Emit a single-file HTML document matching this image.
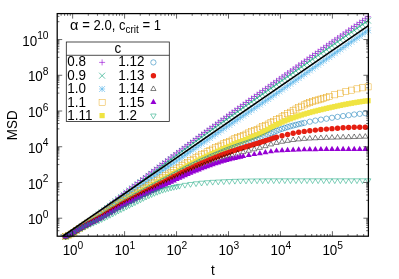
<!DOCTYPE html>
<html><head><meta charset="utf-8"><title>MSD</title>
<style>html,body{margin:0;padding:0;background:#fff;}body{width:399px;height:279px;overflow:hidden;position:relative;font-family:"Liberation Sans",sans-serif;}</style>
</head><body>
<svg width="399" height="279" viewBox="0 0 399 279" style="position:absolute;left:0;top:0;will-change:transform">
<rect width="399" height="279" fill="#fff"/>
<g>
<path d="M62.60 236.51H68.60M65.6 233.51V239.51" stroke="#9400D3" stroke-width="0.6" fill="none"/>
<path d="M65.38 235.18H71.38M68.38 232.18V238.18" stroke="#9400D3" stroke-width="0.6" fill="none"/>
<path d="M68.15 233.98H74.15M71.15 230.98V236.98" stroke="#9400D3" stroke-width="0.6" fill="none"/>
<path d="M70.92 232.31H76.92M73.92 229.31V235.31" stroke="#9400D3" stroke-width="0.6" fill="none"/>
<path d="M73.70 230.54H79.70M76.7 227.54V233.54" stroke="#9400D3" stroke-width="0.6" fill="none"/>
<path d="M76.47 228.64H82.47M79.47 225.64V231.64" stroke="#9400D3" stroke-width="0.6" fill="none"/>
<path d="M79.25 226.67H85.25M82.25 223.67V229.67" stroke="#9400D3" stroke-width="0.6" fill="none"/>
<path d="M82.02 224.66H88.02M85.02 221.66V227.66" stroke="#9400D3" stroke-width="0.6" fill="none"/>
<path d="M84.80 222.62H90.80M87.8 219.62V225.62" stroke="#9400D3" stroke-width="0.6" fill="none"/>
<path d="M87.57 220.57H93.57M90.57 217.57V223.57" stroke="#9400D3" stroke-width="0.6" fill="none"/>
<path d="M90.35 218.45H96.35M93.35 215.45V221.45" stroke="#9400D3" stroke-width="0.6" fill="none"/>
<path d="M93.12 216.26H99.12M96.12 213.26V219.26" stroke="#9400D3" stroke-width="0.6" fill="none"/>
<path d="M95.90 214.02H101.90M98.9 211.02V217.02" stroke="#9400D3" stroke-width="0.6" fill="none"/>
<path d="M98.67 211.76H104.67M101.67 208.76V214.76" stroke="#9400D3" stroke-width="0.6" fill="none"/>
<path d="M101.45 209.51H107.45M104.45 206.51V212.51" stroke="#9400D3" stroke-width="0.6" fill="none"/>
<path d="M104.22 207.25H110.22M107.22 204.25V210.25" stroke="#9400D3" stroke-width="0.6" fill="none"/>
<path d="M107.00 204.96H113.00M110.0 201.96V207.96" stroke="#9400D3" stroke-width="0.6" fill="none"/>
<path d="M109.77 202.66H115.77M112.77 199.66V205.66" stroke="#9400D3" stroke-width="0.6" fill="none"/>
<path d="M112.55 200.36H118.55M115.55 197.36V203.36" stroke="#9400D3" stroke-width="0.6" fill="none"/>
<path d="M115.32 198.08H121.32M118.32 195.08V201.08" stroke="#9400D3" stroke-width="0.6" fill="none"/>
<path d="M118.10 195.84H124.10M121.1 192.84V198.84" stroke="#9400D3" stroke-width="0.6" fill="none"/>
<path d="M120.88 193.62H126.88M123.88 190.62V196.62" stroke="#9400D3" stroke-width="0.6" fill="none"/>
<path d="M123.65 191.41H129.65M126.65 188.41V194.41" stroke="#9400D3" stroke-width="0.6" fill="none"/>
<path d="M126.42 189.2H132.42M129.42 186.20V192.20" stroke="#9400D3" stroke-width="0.6" fill="none"/>
<path d="M129.20 187.01H135.20M132.2 184.01V190.01" stroke="#9400D3" stroke-width="0.6" fill="none"/>
<path d="M131.97 184.82H137.97M134.97 181.82V187.82" stroke="#9400D3" stroke-width="0.6" fill="none"/>
<path d="M134.75 182.65H140.75M137.75 179.65V185.65" stroke="#9400D3" stroke-width="0.6" fill="none"/>
<path d="M137.52 180.48H143.52M140.52 177.48V183.48" stroke="#9400D3" stroke-width="0.6" fill="none"/>
<path d="M140.30 178.32H146.30M143.3 175.32V181.32" stroke="#9400D3" stroke-width="0.6" fill="none"/>
<path d="M143.07 176.17H149.07M146.07 173.17V179.17" stroke="#9400D3" stroke-width="0.6" fill="none"/>
<path d="M145.85 174.04H151.85M148.85 171.04V177.04" stroke="#9400D3" stroke-width="0.6" fill="none"/>
<path d="M148.62 171.91H154.62M151.62 168.91V174.91" stroke="#9400D3" stroke-width="0.6" fill="none"/>
<path d="M151.40 169.79H157.40M154.4 166.79V172.79" stroke="#9400D3" stroke-width="0.6" fill="none"/>
<path d="M154.18 167.67H160.18M157.18 164.67V170.67" stroke="#9400D3" stroke-width="0.6" fill="none"/>
<path d="M156.95 165.55H162.95M159.95 162.55V168.55" stroke="#9400D3" stroke-width="0.6" fill="none"/>
<path d="M159.72 163.44H165.72M162.72 160.44V166.44" stroke="#9400D3" stroke-width="0.6" fill="none"/>
<path d="M162.50 161.33H168.50M165.5 158.33V164.33" stroke="#9400D3" stroke-width="0.6" fill="none"/>
<path d="M165.27 159.22H171.27M168.27 156.22V162.22" stroke="#9400D3" stroke-width="0.6" fill="none"/>
<path d="M168.05 157.12H174.05M171.05 154.12V160.12" stroke="#9400D3" stroke-width="0.6" fill="none"/>
<path d="M170.82 155.02H176.82M173.82 152.02V158.02" stroke="#9400D3" stroke-width="0.6" fill="none"/>
<path d="M173.60 152.93H179.60M176.6 149.93V155.93" stroke="#9400D3" stroke-width="0.6" fill="none"/>
<path d="M176.38 150.85H182.38M179.38 147.85V153.85" stroke="#9400D3" stroke-width="0.6" fill="none"/>
<path d="M179.15 148.77H185.15M182.15 145.77V151.77" stroke="#9400D3" stroke-width="0.6" fill="none"/>
<path d="M181.93 146.7H187.93M184.93 143.70V149.70" stroke="#9400D3" stroke-width="0.6" fill="none"/>
<path d="M184.70 144.64H190.70M187.7 141.64V147.64" stroke="#9400D3" stroke-width="0.6" fill="none"/>
<path d="M187.47 142.59H193.47M190.47 139.59V145.59" stroke="#9400D3" stroke-width="0.6" fill="none"/>
<path d="M190.25 140.54H196.25M193.25 137.54V143.54" stroke="#9400D3" stroke-width="0.6" fill="none"/>
<path d="M193.02 138.51H199.02M196.02 135.51V141.51" stroke="#9400D3" stroke-width="0.6" fill="none"/>
<path d="M195.80 136.48H201.80M198.8 133.48V139.48" stroke="#9400D3" stroke-width="0.6" fill="none"/>
<path d="M198.57 134.46H204.57M201.57 131.46V137.46" stroke="#9400D3" stroke-width="0.6" fill="none"/>
<path d="M201.35 132.45H207.35M204.35 129.45V135.45" stroke="#9400D3" stroke-width="0.6" fill="none"/>
<path d="M204.12 130.44H210.12M207.12 127.44V133.44" stroke="#9400D3" stroke-width="0.6" fill="none"/>
<path d="M206.90 128.42H212.90M209.9 125.42V131.42" stroke="#9400D3" stroke-width="0.6" fill="none"/>
<path d="M209.67 126.42H215.67M212.67 123.42V129.42" stroke="#9400D3" stroke-width="0.6" fill="none"/>
<path d="M212.45 124.41H218.45M215.45 121.41V127.41" stroke="#9400D3" stroke-width="0.6" fill="none"/>
<path d="M215.22 122.41H221.22M218.22 119.41V125.41" stroke="#9400D3" stroke-width="0.6" fill="none"/>
<path d="M218.00 120.41H224.00M221.0 117.41V123.41" stroke="#9400D3" stroke-width="0.6" fill="none"/>
<path d="M220.77 118.41H226.77M223.77 115.41V121.41" stroke="#9400D3" stroke-width="0.6" fill="none"/>
<path d="M223.55 116.41H229.55M226.55 113.41V119.41" stroke="#9400D3" stroke-width="0.6" fill="none"/>
<path d="M226.32 114.41H232.32M229.32 111.41V117.41" stroke="#9400D3" stroke-width="0.6" fill="none"/>
<path d="M229.10 112.42H235.10M232.1 109.42V115.42" stroke="#9400D3" stroke-width="0.6" fill="none"/>
<path d="M231.88 110.43H237.88M234.88 107.43V113.43" stroke="#9400D3" stroke-width="0.6" fill="none"/>
<path d="M234.65 108.44H240.65M237.65 105.44V111.44" stroke="#9400D3" stroke-width="0.6" fill="none"/>
<path d="M237.42 106.46H243.42M240.42 103.46V109.46" stroke="#9400D3" stroke-width="0.6" fill="none"/>
<path d="M240.20 104.47H246.20M243.2 101.47V107.47" stroke="#9400D3" stroke-width="0.6" fill="none"/>
<path d="M242.97 102.49H248.97M245.97 99.49V105.49" stroke="#9400D3" stroke-width="0.6" fill="none"/>
<path d="M245.75 100.51H251.75M248.75 97.51V103.51" stroke="#9400D3" stroke-width="0.6" fill="none"/>
<path d="M248.52 98.53H254.52M251.52 95.53V101.53" stroke="#9400D3" stroke-width="0.6" fill="none"/>
<path d="M251.30 96.56H257.30M254.3 93.56V99.56" stroke="#9400D3" stroke-width="0.6" fill="none"/>
<path d="M254.07 94.58H260.07M257.07 91.58V97.58" stroke="#9400D3" stroke-width="0.6" fill="none"/>
<path d="M256.85 92.61H262.85M259.85 89.61V95.61" stroke="#9400D3" stroke-width="0.6" fill="none"/>
<path d="M259.62 90.64H265.62M262.62 87.64V93.64" stroke="#9400D3" stroke-width="0.6" fill="none"/>
<path d="M262.40 88.67H268.40M265.4 85.67V91.67" stroke="#9400D3" stroke-width="0.6" fill="none"/>
<path d="M265.17 86.71H271.17M268.17 83.71V89.71" stroke="#9400D3" stroke-width="0.6" fill="none"/>
<path d="M267.95 84.75H273.95M270.95 81.75V87.75" stroke="#9400D3" stroke-width="0.6" fill="none"/>
<path d="M270.73 82.79H276.73M273.73 79.79V85.79" stroke="#9400D3" stroke-width="0.6" fill="none"/>
<path d="M273.50 80.83H279.50M276.5 77.83V83.83" stroke="#9400D3" stroke-width="0.6" fill="none"/>
<path d="M276.27 78.87H282.27M279.27 75.87V81.87" stroke="#9400D3" stroke-width="0.6" fill="none"/>
<path d="M279.05 76.92H285.05M282.05 73.92V79.92" stroke="#9400D3" stroke-width="0.6" fill="none"/>
<path d="M281.82 74.97H287.82M284.82 71.97V77.97" stroke="#9400D3" stroke-width="0.6" fill="none"/>
<path d="M284.60 73.01H290.60M287.6 70.01V76.01" stroke="#9400D3" stroke-width="0.6" fill="none"/>
<path d="M287.38 71.06H293.38M290.38 68.06V74.06" stroke="#9400D3" stroke-width="0.6" fill="none"/>
<path d="M290.15 69.11H296.15M293.15 66.11V72.11" stroke="#9400D3" stroke-width="0.6" fill="none"/>
<path d="M292.92 67.16H298.92M295.92 64.16V70.16" stroke="#9400D3" stroke-width="0.6" fill="none"/>
<path d="M295.70 65.21H301.70M298.7 62.21V68.21" stroke="#9400D3" stroke-width="0.6" fill="none"/>
<path d="M298.48 63.26H304.48M301.48 60.26V66.26" stroke="#9400D3" stroke-width="0.6" fill="none"/>
<path d="M301.25 61.31H307.25M304.25 58.31V64.31" stroke="#9400D3" stroke-width="0.6" fill="none"/>
<path d="M304.02 59.36H310.02M307.02 56.36V62.36" stroke="#9400D3" stroke-width="0.6" fill="none"/>
<path d="M306.80 57.41H312.80M309.8 54.41V60.41" stroke="#9400D3" stroke-width="0.6" fill="none"/>
<path d="M309.57 55.46H315.57M312.57 52.46V58.46" stroke="#9400D3" stroke-width="0.6" fill="none"/>
<path d="M312.35 53.52H318.35M315.35 50.52V56.52" stroke="#9400D3" stroke-width="0.6" fill="none"/>
<path d="M315.12 51.57H321.12M318.12 48.57V54.57" stroke="#9400D3" stroke-width="0.6" fill="none"/>
<path d="M317.90 49.63H323.90M320.9 46.63V52.63" stroke="#9400D3" stroke-width="0.6" fill="none"/>
<path d="M320.67 47.68H326.67M323.67 44.68V50.68" stroke="#9400D3" stroke-width="0.6" fill="none"/>
<path d="M323.45 45.74H329.45M326.45 42.74V48.74" stroke="#9400D3" stroke-width="0.6" fill="none"/>
<path d="M326.23 43.8H332.23M329.23 40.80V46.80" stroke="#9400D3" stroke-width="0.6" fill="none"/>
<path d="M329.00 41.86H335.00M332.0 38.86V44.86" stroke="#9400D3" stroke-width="0.6" fill="none"/>
<path d="M331.77 39.92H337.77M334.77 36.92V42.92" stroke="#9400D3" stroke-width="0.6" fill="none"/>
<path d="M334.55 37.98H340.55M337.55 34.98V40.98" stroke="#9400D3" stroke-width="0.6" fill="none"/>
<path d="M337.32 36.04H343.32M340.32 33.04V39.04" stroke="#9400D3" stroke-width="0.6" fill="none"/>
<path d="M340.10 34.11H346.10M343.1 31.11V37.11" stroke="#9400D3" stroke-width="0.6" fill="none"/>
<path d="M342.88 32.18H348.88M345.88 29.18V35.18" stroke="#9400D3" stroke-width="0.6" fill="none"/>
<path d="M345.65 30.25H351.65M348.65 27.25V33.25" stroke="#9400D3" stroke-width="0.6" fill="none"/>
<path d="M348.42 28.32H354.42M351.42 25.32V31.32" stroke="#9400D3" stroke-width="0.6" fill="none"/>
<path d="M351.20 26.4H357.20M354.2 23.40V29.40" stroke="#9400D3" stroke-width="0.6" fill="none"/>
<path d="M353.98 24.47H359.98M356.98 21.47V27.47" stroke="#9400D3" stroke-width="0.6" fill="none"/>
<path d="M356.75 22.55H362.75M359.75 19.55V25.55" stroke="#9400D3" stroke-width="0.6" fill="none"/>
<path d="M359.52 20.63H365.52M362.52 17.63V23.63" stroke="#9400D3" stroke-width="0.6" fill="none"/>
<path d="M362.30 18.72H368.30M365.3 15.72V21.72" stroke="#9400D3" stroke-width="0.6" fill="none"/>
<path d="M365.07 16.8H371.07M368.07 13.80V19.80" stroke="#9400D3" stroke-width="0.6" fill="none"/>
<path d="M62.60 233.51L68.60 239.51M62.60 239.51L68.60 233.51" stroke="#009E73" stroke-width="0.6" fill="none"/>
<path d="M65.38 232.18L71.38 238.18M65.38 238.18L71.38 232.18" stroke="#009E73" stroke-width="0.6" fill="none"/>
<path d="M68.15 230.98L74.15 236.98M68.15 236.98L74.15 230.98" stroke="#009E73" stroke-width="0.6" fill="none"/>
<path d="M70.92 229.31L76.92 235.31M70.92 235.31L76.92 229.31" stroke="#009E73" stroke-width="0.6" fill="none"/>
<path d="M73.70 227.54L79.70 233.54M73.70 233.54L79.70 227.54" stroke="#009E73" stroke-width="0.6" fill="none"/>
<path d="M76.47 225.64L82.47 231.64M76.47 231.64L82.47 225.64" stroke="#009E73" stroke-width="0.6" fill="none"/>
<path d="M79.25 223.70L85.25 229.70M79.25 229.70L85.25 223.70" stroke="#009E73" stroke-width="0.6" fill="none"/>
<path d="M82.02 221.74L88.02 227.74M82.02 227.74L88.02 221.74" stroke="#009E73" stroke-width="0.6" fill="none"/>
<path d="M84.80 219.77L90.80 225.77M84.80 225.77L90.80 219.77" stroke="#009E73" stroke-width="0.6" fill="none"/>
<path d="M87.57 217.78L93.57 223.78M87.57 223.78L93.57 217.78" stroke="#009E73" stroke-width="0.6" fill="none"/>
<path d="M90.35 215.76L96.35 221.76M90.35 221.76L96.35 215.76" stroke="#009E73" stroke-width="0.6" fill="none"/>
<path d="M93.12 213.68L99.12 219.68M93.12 219.68L99.12 213.68" stroke="#009E73" stroke-width="0.6" fill="none"/>
<path d="M95.90 211.57L101.90 217.57M95.90 217.57L101.90 211.57" stroke="#009E73" stroke-width="0.6" fill="none"/>
<path d="M98.67 209.44L104.67 215.44M98.67 215.44L104.67 209.44" stroke="#009E73" stroke-width="0.6" fill="none"/>
<path d="M101.45 207.29L107.45 213.29M101.45 213.29L107.45 207.29" stroke="#009E73" stroke-width="0.6" fill="none"/>
<path d="M104.22 205.11L110.22 211.11M104.22 211.11L110.22 205.11" stroke="#009E73" stroke-width="0.6" fill="none"/>
<path d="M107.00 202.86L113.00 208.86M107.00 208.86L113.00 202.86" stroke="#009E73" stroke-width="0.6" fill="none"/>
<path d="M109.77 200.57L115.77 206.57M109.77 206.57L115.77 200.57" stroke="#009E73" stroke-width="0.6" fill="none"/>
<path d="M112.55 198.29L118.55 204.29M112.55 204.29L118.55 198.29" stroke="#009E73" stroke-width="0.6" fill="none"/>
<path d="M115.32 196.05L121.32 202.05M115.32 202.05L121.32 196.05" stroke="#009E73" stroke-width="0.6" fill="none"/>
<path d="M118.10 193.87L124.10 199.87M118.10 199.87L124.10 193.87" stroke="#009E73" stroke-width="0.6" fill="none"/>
<path d="M120.88 191.73L126.88 197.73M120.88 197.73L126.88 191.73" stroke="#009E73" stroke-width="0.6" fill="none"/>
<path d="M123.65 189.60L129.65 195.60M123.65 195.60L129.65 189.60" stroke="#009E73" stroke-width="0.6" fill="none"/>
<path d="M126.42 187.48L132.42 193.48M126.42 193.48L132.42 187.48" stroke="#009E73" stroke-width="0.6" fill="none"/>
<path d="M129.20 185.38L135.20 191.38M129.20 191.38L135.20 185.38" stroke="#009E73" stroke-width="0.6" fill="none"/>
<path d="M131.97 183.29L137.97 189.29M131.97 189.29L137.97 183.29" stroke="#009E73" stroke-width="0.6" fill="none"/>
<path d="M134.75 181.20L140.75 187.20M134.75 187.20L140.75 181.20" stroke="#009E73" stroke-width="0.6" fill="none"/>
<path d="M137.52 179.12L143.52 185.12M137.52 185.12L143.52 179.12" stroke="#009E73" stroke-width="0.6" fill="none"/>
<path d="M140.30 177.05L146.30 183.05M140.30 183.05L146.30 177.05" stroke="#009E73" stroke-width="0.6" fill="none"/>
<path d="M143.07 174.98L149.07 180.98M143.07 180.98L149.07 174.98" stroke="#009E73" stroke-width="0.6" fill="none"/>
<path d="M145.85 172.91L151.85 178.91M145.85 178.91L151.85 172.91" stroke="#009E73" stroke-width="0.6" fill="none"/>
<path d="M148.62 170.85L154.62 176.85M148.62 176.85L154.62 170.85" stroke="#009E73" stroke-width="0.6" fill="none"/>
<path d="M151.40 168.78L157.40 174.78M151.40 174.78L157.40 168.78" stroke="#009E73" stroke-width="0.6" fill="none"/>
<path d="M154.18 166.72L160.18 172.72M154.18 172.72L160.18 166.72" stroke="#009E73" stroke-width="0.6" fill="none"/>
<path d="M156.95 164.65L162.95 170.65M156.95 170.65L162.95 164.65" stroke="#009E73" stroke-width="0.6" fill="none"/>
<path d="M159.72 162.59L165.72 168.59M159.72 168.59L165.72 162.59" stroke="#009E73" stroke-width="0.6" fill="none"/>
<path d="M162.50 160.52L168.50 166.52M162.50 166.52L168.50 160.52" stroke="#009E73" stroke-width="0.6" fill="none"/>
<path d="M165.27 158.46L171.27 164.46M165.27 164.46L171.27 158.46" stroke="#009E73" stroke-width="0.6" fill="none"/>
<path d="M168.05 156.41L174.05 162.41M168.05 162.41L174.05 156.41" stroke="#009E73" stroke-width="0.6" fill="none"/>
<path d="M170.82 154.35L176.82 160.35M170.82 160.35L176.82 154.35" stroke="#009E73" stroke-width="0.6" fill="none"/>
<path d="M173.60 152.31L179.60 158.31M173.60 158.31L179.60 152.31" stroke="#009E73" stroke-width="0.6" fill="none"/>
<path d="M176.38 150.26L182.38 156.26M176.38 156.26L182.38 150.26" stroke="#009E73" stroke-width="0.6" fill="none"/>
<path d="M179.15 148.23L185.15 154.23M179.15 154.23L185.15 148.23" stroke="#009E73" stroke-width="0.6" fill="none"/>
<path d="M181.93 146.20L187.93 152.20M181.93 152.20L187.93 146.20" stroke="#009E73" stroke-width="0.6" fill="none"/>
<path d="M184.70 144.17L190.70 150.17M184.70 150.17L190.70 144.17" stroke="#009E73" stroke-width="0.6" fill="none"/>
<path d="M187.47 142.16L193.47 148.16M187.47 148.16L193.47 142.16" stroke="#009E73" stroke-width="0.6" fill="none"/>
<path d="M190.25 140.15L196.25 146.15M190.25 146.15L196.25 140.15" stroke="#009E73" stroke-width="0.6" fill="none"/>
<path d="M193.02 138.15L199.02 144.15M193.02 144.15L199.02 138.15" stroke="#009E73" stroke-width="0.6" fill="none"/>
<path d="M195.80 136.16L201.80 142.16M195.80 142.16L201.80 136.16" stroke="#009E73" stroke-width="0.6" fill="none"/>
<path d="M198.57 134.18L204.57 140.18M198.57 140.18L204.57 134.18" stroke="#009E73" stroke-width="0.6" fill="none"/>
<path d="M201.35 132.21L207.35 138.21M201.35 138.21L207.35 132.21" stroke="#009E73" stroke-width="0.6" fill="none"/>
<path d="M204.12 130.23L210.12 136.23M204.12 136.23L210.12 130.23" stroke="#009E73" stroke-width="0.6" fill="none"/>
<path d="M206.90 128.26L212.90 134.26M206.90 134.26L212.90 128.26" stroke="#009E73" stroke-width="0.6" fill="none"/>
<path d="M209.67 126.29L215.67 132.29M209.67 132.29L215.67 126.29" stroke="#009E73" stroke-width="0.6" fill="none"/>
<path d="M212.45 124.32L218.45 130.32M212.45 130.32L218.45 124.32" stroke="#009E73" stroke-width="0.6" fill="none"/>
<path d="M215.22 122.36L221.22 128.36M215.22 128.36L221.22 122.36" stroke="#009E73" stroke-width="0.6" fill="none"/>
<path d="M218.00 120.39L224.00 126.39M218.00 126.39L224.00 120.39" stroke="#009E73" stroke-width="0.6" fill="none"/>
<path d="M220.77 118.43L226.77 124.43M220.77 124.43L226.77 118.43" stroke="#009E73" stroke-width="0.6" fill="none"/>
<path d="M223.55 116.47L229.55 122.47M223.55 122.47L229.55 116.47" stroke="#009E73" stroke-width="0.6" fill="none"/>
<path d="M226.32 114.51L232.32 120.51M226.32 120.51L232.32 114.51" stroke="#009E73" stroke-width="0.6" fill="none"/>
<path d="M229.10 112.55L235.10 118.55M229.10 118.55L235.10 112.55" stroke="#009E73" stroke-width="0.6" fill="none"/>
<path d="M231.88 110.59L237.88 116.59M231.88 116.59L237.88 110.59" stroke="#009E73" stroke-width="0.6" fill="none"/>
<path d="M234.65 108.64L240.65 114.64M234.65 114.64L240.65 108.64" stroke="#009E73" stroke-width="0.6" fill="none"/>
<path d="M237.42 106.68L243.42 112.68M237.42 112.68L243.42 106.68" stroke="#009E73" stroke-width="0.6" fill="none"/>
<path d="M240.20 104.73L246.20 110.73M240.20 110.73L246.20 104.73" stroke="#009E73" stroke-width="0.6" fill="none"/>
<path d="M242.97 102.78L248.97 108.78M242.97 108.78L248.97 102.78" stroke="#009E73" stroke-width="0.6" fill="none"/>
<path d="M245.75 100.83L251.75 106.83M245.75 106.83L251.75 100.83" stroke="#009E73" stroke-width="0.6" fill="none"/>
<path d="M248.52 98.88L254.52 104.88M248.52 104.88L254.52 98.88" stroke="#009E73" stroke-width="0.6" fill="none"/>
<path d="M251.30 96.93L257.30 102.93M251.30 102.93L257.30 96.93" stroke="#009E73" stroke-width="0.6" fill="none"/>
<path d="M254.07 94.99L260.07 100.99M254.07 100.99L260.07 94.99" stroke="#009E73" stroke-width="0.6" fill="none"/>
<path d="M256.85 93.04L262.85 99.04M256.85 99.04L262.85 93.04" stroke="#009E73" stroke-width="0.6" fill="none"/>
<path d="M259.62 91.10L265.62 97.10M259.62 97.10L265.62 91.10" stroke="#009E73" stroke-width="0.6" fill="none"/>
<path d="M262.40 89.15L268.40 95.15M262.40 95.15L268.40 89.15" stroke="#009E73" stroke-width="0.6" fill="none"/>
<path d="M265.17 87.21L271.17 93.21M265.17 93.21L271.17 87.21" stroke="#009E73" stroke-width="0.6" fill="none"/>
<path d="M267.95 85.27L273.95 91.27M267.95 91.27L273.95 85.27" stroke="#009E73" stroke-width="0.6" fill="none"/>
<path d="M270.73 83.33L276.73 89.33M270.73 89.33L276.73 83.33" stroke="#009E73" stroke-width="0.6" fill="none"/>
<path d="M273.50 81.38L279.50 87.38M273.50 87.38L279.50 81.38" stroke="#009E73" stroke-width="0.6" fill="none"/>
<path d="M276.27 79.44L282.27 85.44M276.27 85.44L282.27 79.44" stroke="#009E73" stroke-width="0.6" fill="none"/>
<path d="M279.05 77.50L285.05 83.50M279.05 83.50L285.05 77.50" stroke="#009E73" stroke-width="0.6" fill="none"/>
<path d="M281.82 75.56L287.82 81.56M281.82 81.56L287.82 75.56" stroke="#009E73" stroke-width="0.6" fill="none"/>
<path d="M284.60 73.62L290.60 79.62M284.60 79.62L290.60 73.62" stroke="#009E73" stroke-width="0.6" fill="none"/>
<path d="M287.38 71.69L293.38 77.69M287.38 77.69L293.38 71.69" stroke="#009E73" stroke-width="0.6" fill="none"/>
<path d="M290.15 69.75L296.15 75.75M290.15 75.75L296.15 69.75" stroke="#009E73" stroke-width="0.6" fill="none"/>
<path d="M292.92 67.81L298.92 73.81M292.92 73.81L298.92 67.81" stroke="#009E73" stroke-width="0.6" fill="none"/>
<path d="M295.70 65.87L301.70 71.87M295.70 71.87L301.70 65.87" stroke="#009E73" stroke-width="0.6" fill="none"/>
<path d="M298.48 63.93L304.48 69.93M298.48 69.93L304.48 63.93" stroke="#009E73" stroke-width="0.6" fill="none"/>
<path d="M301.25 61.99L307.25 67.99M301.25 67.99L307.25 61.99" stroke="#009E73" stroke-width="0.6" fill="none"/>
<path d="M304.02 60.05L310.02 66.05M304.02 66.05L310.02 60.05" stroke="#009E73" stroke-width="0.6" fill="none"/>
<path d="M306.80 58.11L312.80 64.11M306.80 64.11L312.80 58.11" stroke="#009E73" stroke-width="0.6" fill="none"/>
<path d="M309.57 56.17L315.57 62.17M309.57 62.17L315.57 56.17" stroke="#009E73" stroke-width="0.6" fill="none"/>
<path d="M312.35 54.23L318.35 60.23M312.35 60.23L318.35 54.23" stroke="#009E73" stroke-width="0.6" fill="none"/>
<path d="M315.12 52.29L321.12 58.29M315.12 58.29L321.12 52.29" stroke="#009E73" stroke-width="0.6" fill="none"/>
<path d="M317.90 50.35L323.90 56.35M317.90 56.35L323.90 50.35" stroke="#009E73" stroke-width="0.6" fill="none"/>
<path d="M320.67 48.42L326.67 54.42M320.67 54.42L326.67 48.42" stroke="#009E73" stroke-width="0.6" fill="none"/>
<path d="M323.45 46.48L329.45 52.48M323.45 52.48L329.45 46.48" stroke="#009E73" stroke-width="0.6" fill="none"/>
<path d="M326.23 44.55L332.23 50.55M326.23 50.55L332.23 44.55" stroke="#009E73" stroke-width="0.6" fill="none"/>
<path d="M329.00 42.61L335.00 48.61M329.00 48.61L335.00 42.61" stroke="#009E73" stroke-width="0.6" fill="none"/>
<path d="M331.77 40.68L337.77 46.68M331.77 46.68L337.77 40.68" stroke="#009E73" stroke-width="0.6" fill="none"/>
<path d="M334.55 38.75L340.55 44.75M334.55 44.75L340.55 38.75" stroke="#009E73" stroke-width="0.6" fill="none"/>
<path d="M337.32 36.82L343.32 42.82M337.32 42.82L343.32 36.82" stroke="#009E73" stroke-width="0.6" fill="none"/>
<path d="M340.10 34.89L346.10 40.89M340.10 40.89L346.10 34.89" stroke="#009E73" stroke-width="0.6" fill="none"/>
<path d="M342.88 32.96L348.88 38.96M342.88 38.96L348.88 32.96" stroke="#009E73" stroke-width="0.6" fill="none"/>
<path d="M345.65 31.04L351.65 37.04M345.65 37.04L351.65 31.04" stroke="#009E73" stroke-width="0.6" fill="none"/>
<path d="M348.42 29.11L354.42 35.11M348.42 35.11L354.42 29.11" stroke="#009E73" stroke-width="0.6" fill="none"/>
<path d="M351.20 27.19L357.20 33.19M351.20 33.19L357.20 27.19" stroke="#009E73" stroke-width="0.6" fill="none"/>
<path d="M353.98 25.27L359.98 31.27M353.98 31.27L359.98 25.27" stroke="#009E73" stroke-width="0.6" fill="none"/>
<path d="M356.75 23.35L362.75 29.35M356.75 29.35L362.75 23.35" stroke="#009E73" stroke-width="0.6" fill="none"/>
<path d="M359.52 21.43L365.52 27.43M359.52 27.43L365.52 21.43" stroke="#009E73" stroke-width="0.6" fill="none"/>
<path d="M362.30 19.52L368.30 25.52M362.30 25.52L368.30 19.52" stroke="#009E73" stroke-width="0.6" fill="none"/>
<path d="M365.07 17.60L371.07 23.60M365.07 23.60L371.07 17.60" stroke="#009E73" stroke-width="0.6" fill="none"/>
<path d="M62.60 236.51H68.60M65.6 233.51V239.51M62.60 233.51L68.60 239.51M62.60 239.51L68.60 233.51" stroke="#56B4E9" stroke-width="0.6" fill="none"/>
<path d="M65.38 235.18H71.38M68.38 232.18V238.18M65.38 232.18L71.38 238.18M65.38 238.18L71.38 232.18" stroke="#56B4E9" stroke-width="0.6" fill="none"/>
<path d="M68.15 233.98H74.15M71.15 230.98V236.98M68.15 230.98L74.15 236.98M68.15 236.98L74.15 230.98" stroke="#56B4E9" stroke-width="0.6" fill="none"/>
<path d="M70.92 232.31H76.92M73.92 229.31V235.31M70.92 229.31L76.92 235.31M70.92 235.31L76.92 229.31" stroke="#56B4E9" stroke-width="0.6" fill="none"/>
<path d="M73.70 230.54H79.70M76.7 227.54V233.54M73.70 227.54L79.70 233.54M73.70 233.54L79.70 227.54" stroke="#56B4E9" stroke-width="0.6" fill="none"/>
<path d="M76.47 228.65H82.47M79.47 225.65V231.65M76.47 225.65L82.47 231.65M76.47 231.65L82.47 225.65" stroke="#56B4E9" stroke-width="0.6" fill="none"/>
<path d="M79.25 226.74H85.25M82.25 223.74V229.74M79.25 223.74L85.25 229.74M79.25 229.74L85.25 223.74" stroke="#56B4E9" stroke-width="0.6" fill="none"/>
<path d="M82.02 224.82H88.02M85.02 221.82V227.82M82.02 221.82L88.02 227.82M82.02 227.82L88.02 221.82" stroke="#56B4E9" stroke-width="0.6" fill="none"/>
<path d="M84.80 222.91H90.80M87.8 219.91V225.91M84.80 219.91L90.80 225.91M84.80 225.91L90.80 219.91" stroke="#56B4E9" stroke-width="0.6" fill="none"/>
<path d="M87.57 221.0H93.57M90.57 218.00V224.00M87.57 218.00L93.57 224.00M87.57 224.00L93.57 218.00" stroke="#56B4E9" stroke-width="0.6" fill="none"/>
<path d="M90.35 219.06H96.35M93.35 216.06V222.06M90.35 216.06L96.35 222.06M90.35 222.06L96.35 216.06" stroke="#56B4E9" stroke-width="0.6" fill="none"/>
<path d="M93.12 217.09H99.12M96.12 214.09V220.09M93.12 214.09L99.12 220.09M93.12 220.09L99.12 214.09" stroke="#56B4E9" stroke-width="0.6" fill="none"/>
<path d="M95.90 215.1H101.90M98.9 212.10V218.10M95.90 212.10L101.90 218.10M95.90 218.10L101.90 212.10" stroke="#56B4E9" stroke-width="0.6" fill="none"/>
<path d="M98.67 213.08H104.67M101.67 210.08V216.08M98.67 210.08L104.67 216.08M98.67 216.08L104.67 210.08" stroke="#56B4E9" stroke-width="0.6" fill="none"/>
<path d="M101.45 211.06H107.45M104.45 208.06V214.06M101.45 208.06L107.45 214.06M101.45 214.06L107.45 208.06" stroke="#56B4E9" stroke-width="0.6" fill="none"/>
<path d="M104.22 209.04H110.22M107.22 206.04V212.04M104.22 206.04L110.22 212.04M104.22 212.04L110.22 206.04" stroke="#56B4E9" stroke-width="0.6" fill="none"/>
<path d="M107.00 207.02H113.00M110.0 204.02V210.02M107.00 204.02L113.00 210.02M107.00 210.02L113.00 204.02" stroke="#56B4E9" stroke-width="0.6" fill="none"/>
<path d="M109.77 205.02H115.77M112.77 202.02V208.02M109.77 202.02L115.77 208.02M109.77 208.02L115.77 202.02" stroke="#56B4E9" stroke-width="0.6" fill="none"/>
<path d="M112.55 203.04H118.55M115.55 200.04V206.04M112.55 200.04L118.55 206.04M112.55 206.04L118.55 200.04" stroke="#56B4E9" stroke-width="0.6" fill="none"/>
<path d="M115.32 201.09H121.32M118.32 198.09V204.09M115.32 198.09L121.32 204.09M115.32 204.09L121.32 198.09" stroke="#56B4E9" stroke-width="0.6" fill="none"/>
<path d="M118.10 199.17H124.10M121.1 196.17V202.17M118.10 196.17L124.10 202.17M118.10 202.17L124.10 196.17" stroke="#56B4E9" stroke-width="0.6" fill="none"/>
<path d="M120.88 197.26H126.88M123.88 194.26V200.26M120.88 194.26L126.88 200.26M120.88 200.26L126.88 194.26" stroke="#56B4E9" stroke-width="0.6" fill="none"/>
<path d="M123.65 195.35H129.65M126.65 192.35V198.35M123.65 192.35L129.65 198.35M123.65 198.35L129.65 192.35" stroke="#56B4E9" stroke-width="0.6" fill="none"/>
<path d="M126.42 193.43H132.42M129.42 190.43V196.43M126.42 190.43L132.42 196.43M126.42 196.43L132.42 190.43" stroke="#56B4E9" stroke-width="0.6" fill="none"/>
<path d="M129.20 191.52H135.20M132.2 188.52V194.52M129.20 188.52L135.20 194.52M129.20 194.52L135.20 188.52" stroke="#56B4E9" stroke-width="0.6" fill="none"/>
<path d="M131.97 189.61H137.97M134.97 186.61V192.61M131.97 186.61L137.97 192.61M131.97 192.61L137.97 186.61" stroke="#56B4E9" stroke-width="0.6" fill="none"/>
<path d="M134.75 187.7H140.75M137.75 184.70V190.70M134.75 184.70L140.75 190.70M134.75 190.70L140.75 184.70" stroke="#56B4E9" stroke-width="0.6" fill="none"/>
<path d="M137.52 185.79H143.52M140.52 182.79V188.79M137.52 182.79L143.52 188.79M137.52 188.79L143.52 182.79" stroke="#56B4E9" stroke-width="0.6" fill="none"/>
<path d="M140.30 183.87H146.30M143.3 180.87V186.87M140.30 180.87L146.30 186.87M140.30 186.87L146.30 180.87" stroke="#56B4E9" stroke-width="0.6" fill="none"/>
<path d="M143.07 181.96H149.07M146.07 178.96V184.96M143.07 178.96L149.07 184.96M143.07 184.96L149.07 178.96" stroke="#56B4E9" stroke-width="0.6" fill="none"/>
<path d="M145.85 180.05H151.85M148.85 177.05V183.05M145.85 177.05L151.85 183.05M145.85 183.05L151.85 177.05" stroke="#56B4E9" stroke-width="0.6" fill="none"/>
<path d="M148.62 178.14H154.62M151.62 175.14V181.14M148.62 175.14L154.62 181.14M148.62 181.14L154.62 175.14" stroke="#56B4E9" stroke-width="0.6" fill="none"/>
<path d="M151.40 176.23H157.40M154.4 173.23V179.23M151.40 173.23L157.40 179.23M151.40 179.23L157.40 173.23" stroke="#56B4E9" stroke-width="0.6" fill="none"/>
<path d="M154.18 174.31H160.18M157.18 171.31V177.31M154.18 171.31L160.18 177.31M154.18 177.31L160.18 171.31" stroke="#56B4E9" stroke-width="0.6" fill="none"/>
<path d="M156.95 172.4H162.95M159.95 169.40V175.40M156.95 169.40L162.95 175.40M156.95 175.40L162.95 169.40" stroke="#56B4E9" stroke-width="0.6" fill="none"/>
<path d="M159.72 170.49H165.72M162.72 167.49V173.49M159.72 167.49L165.72 173.49M159.72 173.49L165.72 167.49" stroke="#56B4E9" stroke-width="0.6" fill="none"/>
<path d="M162.50 168.58H168.50M165.5 165.58V171.58M162.50 165.58L168.50 171.58M162.50 171.58L168.50 165.58" stroke="#56B4E9" stroke-width="0.6" fill="none"/>
<path d="M165.27 166.67H171.27M168.27 163.67V169.67M165.27 163.67L171.27 169.67M165.27 169.67L171.27 163.67" stroke="#56B4E9" stroke-width="0.6" fill="none"/>
<path d="M168.05 164.75H174.05M171.05 161.75V167.75M168.05 161.75L174.05 167.75M168.05 167.75L174.05 161.75" stroke="#56B4E9" stroke-width="0.6" fill="none"/>
<path d="M170.82 162.84H176.82M173.82 159.84V165.84M170.82 159.84L176.82 165.84M170.82 165.84L176.82 159.84" stroke="#56B4E9" stroke-width="0.6" fill="none"/>
<path d="M173.60 160.93H179.60M176.6 157.93V163.93M173.60 157.93L179.60 163.93M173.60 163.93L179.60 157.93" stroke="#56B4E9" stroke-width="0.6" fill="none"/>
<path d="M176.38 159.02H182.38M179.38 156.02V162.02M176.38 156.02L182.38 162.02M176.38 162.02L182.38 156.02" stroke="#56B4E9" stroke-width="0.6" fill="none"/>
<path d="M179.15 157.11H185.15M182.15 154.11V160.11M179.15 154.11L185.15 160.11M179.15 160.11L185.15 154.11" stroke="#56B4E9" stroke-width="0.6" fill="none"/>
<path d="M181.93 155.19H187.93M184.93 152.19V158.19M181.93 152.19L187.93 158.19M181.93 158.19L187.93 152.19" stroke="#56B4E9" stroke-width="0.6" fill="none"/>
<path d="M184.70 153.28H190.70M187.7 150.28V156.28M184.70 150.28L190.70 156.28M184.70 156.28L190.70 150.28" stroke="#56B4E9" stroke-width="0.6" fill="none"/>
<path d="M187.47 151.37H193.47M190.47 148.37V154.37M187.47 148.37L193.47 154.37M187.47 154.37L193.47 148.37" stroke="#56B4E9" stroke-width="0.6" fill="none"/>
<path d="M190.25 149.46H196.25M193.25 146.46V152.46M190.25 146.46L196.25 152.46M190.25 152.46L196.25 146.46" stroke="#56B4E9" stroke-width="0.6" fill="none"/>
<path d="M193.02 147.55H199.02M196.02 144.55V150.55M193.02 144.55L199.02 150.55M193.02 150.55L199.02 144.55" stroke="#56B4E9" stroke-width="0.6" fill="none"/>
<path d="M195.80 145.63H201.80M198.8 142.63V148.63M195.80 142.63L201.80 148.63M195.80 148.63L201.80 142.63" stroke="#56B4E9" stroke-width="0.6" fill="none"/>
<path d="M198.57 143.72H204.57M201.57 140.72V146.72M198.57 140.72L204.57 146.72M198.57 146.72L204.57 140.72" stroke="#56B4E9" stroke-width="0.6" fill="none"/>
<path d="M201.35 141.82H207.35M204.35 138.82V144.82M201.35 138.82L207.35 144.82M201.35 144.82L207.35 138.82" stroke="#56B4E9" stroke-width="0.6" fill="none"/>
<path d="M204.12 139.92H210.12M207.12 136.92V142.92M204.12 136.92L210.12 142.92M204.12 142.92L210.12 136.92" stroke="#56B4E9" stroke-width="0.6" fill="none"/>
<path d="M206.90 138.03H212.90M209.9 135.03V141.03M206.90 135.03L212.90 141.03M206.90 141.03L212.90 135.03" stroke="#56B4E9" stroke-width="0.6" fill="none"/>
<path d="M209.67 136.15H215.67M212.67 133.15V139.15M209.67 133.15L215.67 139.15M209.67 139.15L215.67 133.15" stroke="#56B4E9" stroke-width="0.6" fill="none"/>
<path d="M212.45 134.28H218.45M215.45 131.28V137.28M212.45 131.28L218.45 137.28M212.45 137.28L218.45 131.28" stroke="#56B4E9" stroke-width="0.6" fill="none"/>
<path d="M215.22 132.4H221.22M218.22 129.40V135.40M215.22 129.40L221.22 135.40M215.22 135.40L221.22 129.40" stroke="#56B4E9" stroke-width="0.6" fill="none"/>
<path d="M218.00 130.54H224.00M221.0 127.54V133.54M218.00 127.54L224.00 133.54M218.00 133.54L224.00 127.54" stroke="#56B4E9" stroke-width="0.6" fill="none"/>
<path d="M220.77 128.67H226.77M223.77 125.67V131.67M220.77 125.67L226.77 131.67M220.77 131.67L226.77 125.67" stroke="#56B4E9" stroke-width="0.6" fill="none"/>
<path d="M223.55 126.82H229.55M226.55 123.82V129.82M223.55 123.82L229.55 129.82M223.55 129.82L229.55 123.82" stroke="#56B4E9" stroke-width="0.6" fill="none"/>
<path d="M226.32 124.96H232.32M229.32 121.96V127.96M226.32 121.96L232.32 127.96M226.32 127.96L232.32 121.96" stroke="#56B4E9" stroke-width="0.6" fill="none"/>
<path d="M229.10 123.11H235.10M232.1 120.11V126.11M229.10 120.11L235.10 126.11M229.10 126.11L235.10 120.11" stroke="#56B4E9" stroke-width="0.6" fill="none"/>
<path d="M231.88 121.26H237.88M234.88 118.26V124.26M231.88 118.26L237.88 124.26M231.88 124.26L237.88 118.26" stroke="#56B4E9" stroke-width="0.6" fill="none"/>
<path d="M234.65 119.41H240.65M237.65 116.41V122.41M234.65 116.41L240.65 122.41M234.65 122.41L240.65 116.41" stroke="#56B4E9" stroke-width="0.6" fill="none"/>
<path d="M237.42 117.56H243.42M240.42 114.56V120.56M237.42 114.56L243.42 120.56M237.42 120.56L243.42 114.56" stroke="#56B4E9" stroke-width="0.6" fill="none"/>
<path d="M240.20 115.71H246.20M243.2 112.71V118.71M240.20 112.71L246.20 118.71M240.20 118.71L246.20 112.71" stroke="#56B4E9" stroke-width="0.6" fill="none"/>
<path d="M242.97 113.86H248.97M245.97 110.86V116.86M242.97 110.86L248.97 116.86M242.97 116.86L248.97 110.86" stroke="#56B4E9" stroke-width="0.6" fill="none"/>
<path d="M245.75 112.01H251.75M248.75 109.01V115.01M245.75 109.01L251.75 115.01M245.75 115.01L251.75 109.01" stroke="#56B4E9" stroke-width="0.6" fill="none"/>
<path d="M248.52 110.16H254.52M251.52 107.16V113.16M248.52 107.16L254.52 113.16M248.52 113.16L254.52 107.16" stroke="#56B4E9" stroke-width="0.6" fill="none"/>
<path d="M251.30 108.31H257.30M254.3 105.31V111.31M251.30 105.31L257.30 111.31M251.30 111.31L257.30 105.31" stroke="#56B4E9" stroke-width="0.6" fill="none"/>
<path d="M254.07 106.45H260.07M257.07 103.45V109.45M254.07 103.45L260.07 109.45M254.07 109.45L260.07 103.45" stroke="#56B4E9" stroke-width="0.6" fill="none"/>
<path d="M256.85 104.6H262.85M259.85 101.60V107.60M256.85 101.60L262.85 107.60M256.85 107.60L262.85 101.60" stroke="#56B4E9" stroke-width="0.6" fill="none"/>
<path d="M259.62 102.74H265.62M262.62 99.74V105.74M259.62 99.74L265.62 105.74M259.62 105.74L265.62 99.74" stroke="#56B4E9" stroke-width="0.6" fill="none"/>
<path d="M262.40 100.87H268.40M265.4 97.87V103.87M262.40 97.87L268.40 103.87M262.40 103.87L268.40 97.87" stroke="#56B4E9" stroke-width="0.6" fill="none"/>
<path d="M265.17 99.0H271.17M268.17 96.00V102.00M265.17 96.00L271.17 102.00M265.17 102.00L271.17 96.00" stroke="#56B4E9" stroke-width="0.6" fill="none"/>
<path d="M267.95 97.13H273.95M270.95 94.13V100.13M267.95 94.13L273.95 100.13M267.95 100.13L273.95 94.13" stroke="#56B4E9" stroke-width="0.6" fill="none"/>
<path d="M270.73 95.25H276.73M273.73 92.25V98.25M270.73 92.25L276.73 98.25M270.73 98.25L276.73 92.25" stroke="#56B4E9" stroke-width="0.6" fill="none"/>
<path d="M273.50 93.36H279.50M276.5 90.36V96.36M273.50 90.36L279.50 96.36M273.50 96.36L279.50 90.36" stroke="#56B4E9" stroke-width="0.6" fill="none"/>
<path d="M276.27 91.47H282.27M279.27 88.47V94.47M276.27 88.47L282.27 94.47M276.27 94.47L282.27 88.47" stroke="#56B4E9" stroke-width="0.6" fill="none"/>
<path d="M279.05 89.57H285.05M282.05 86.57V92.57M279.05 86.57L285.05 92.57M279.05 92.57L285.05 86.57" stroke="#56B4E9" stroke-width="0.6" fill="none"/>
<path d="M281.82 87.66H287.82M284.82 84.66V90.66M281.82 84.66L287.82 90.66M281.82 90.66L287.82 84.66" stroke="#56B4E9" stroke-width="0.6" fill="none"/>
<path d="M284.60 85.75H290.60M287.6 82.75V88.75M284.60 82.75L290.60 88.75M284.60 88.75L290.60 82.75" stroke="#56B4E9" stroke-width="0.6" fill="none"/>
<path d="M287.38 83.84H293.38M290.38 80.84V86.84M287.38 80.84L293.38 86.84M287.38 86.84L293.38 80.84" stroke="#56B4E9" stroke-width="0.6" fill="none"/>
<path d="M290.15 81.93H296.15M293.15 78.93V84.93M290.15 78.93L296.15 84.93M290.15 84.93L296.15 78.93" stroke="#56B4E9" stroke-width="0.6" fill="none"/>
<path d="M292.92 80.01H298.92M295.92 77.01V83.01M292.92 77.01L298.92 83.01M292.92 83.01L298.92 77.01" stroke="#56B4E9" stroke-width="0.6" fill="none"/>
<path d="M295.70 78.1H301.70M298.7 75.10V81.10M295.70 75.10L301.70 81.10M295.70 81.10L301.70 75.10" stroke="#56B4E9" stroke-width="0.6" fill="none"/>
<path d="M298.48 76.19H304.48M301.48 73.19V79.19M298.48 73.19L304.48 79.19M298.48 79.19L304.48 73.19" stroke="#56B4E9" stroke-width="0.6" fill="none"/>
<path d="M301.25 74.28H307.25M304.25 71.28V77.28M301.25 71.28L307.25 77.28M301.25 77.28L307.25 71.28" stroke="#56B4E9" stroke-width="0.6" fill="none"/>
<path d="M304.02 72.37H310.02M307.02 69.37V75.37M304.02 69.37L310.02 75.37M304.02 75.37L310.02 69.37" stroke="#56B4E9" stroke-width="0.6" fill="none"/>
<path d="M306.80 70.45H312.80M309.8 67.45V73.45M306.80 67.45L312.80 73.45M306.80 73.45L312.80 67.45" stroke="#56B4E9" stroke-width="0.6" fill="none"/>
<path d="M309.57 68.54H315.57M312.57 65.54V71.54M309.57 65.54L315.57 71.54M309.57 71.54L315.57 65.54" stroke="#56B4E9" stroke-width="0.6" fill="none"/>
<path d="M312.35 66.63H318.35M315.35 63.63V69.63M312.35 63.63L318.35 69.63M312.35 69.63L318.35 63.63" stroke="#56B4E9" stroke-width="0.6" fill="none"/>
<path d="M315.12 64.72H321.12M318.12 61.72V67.72M315.12 61.72L321.12 67.72M315.12 67.72L321.12 61.72" stroke="#56B4E9" stroke-width="0.6" fill="none"/>
<path d="M317.90 62.81H323.90M320.9 59.81V65.81M317.90 59.81L323.90 65.81M317.90 65.81L323.90 59.81" stroke="#56B4E9" stroke-width="0.6" fill="none"/>
<path d="M320.67 60.89H326.67M323.67 57.89V63.89M320.67 57.89L326.67 63.89M320.67 63.89L326.67 57.89" stroke="#56B4E9" stroke-width="0.6" fill="none"/>
<path d="M323.45 58.98H329.45M326.45 55.98V61.98M323.45 55.98L329.45 61.98M323.45 61.98L329.45 55.98" stroke="#56B4E9" stroke-width="0.6" fill="none"/>
<path d="M326.23 57.07H332.23M329.23 54.07V60.07M326.23 54.07L332.23 60.07M326.23 60.07L332.23 54.07" stroke="#56B4E9" stroke-width="0.6" fill="none"/>
<path d="M329.00 55.16H335.00M332.0 52.16V58.16M329.00 52.16L335.00 58.16M329.00 58.16L335.00 52.16" stroke="#56B4E9" stroke-width="0.6" fill="none"/>
<path d="M331.77 53.25H337.77M334.77 50.25V56.25M331.77 50.25L337.77 56.25M331.77 56.25L337.77 50.25" stroke="#56B4E9" stroke-width="0.6" fill="none"/>
<path d="M334.55 51.34H340.55M337.55 48.34V54.34M334.55 48.34L340.55 54.34M334.55 54.34L340.55 48.34" stroke="#56B4E9" stroke-width="0.6" fill="none"/>
<path d="M337.32 49.42H343.32M340.32 46.42V52.42M337.32 46.42L343.32 52.42M337.32 52.42L343.32 46.42" stroke="#56B4E9" stroke-width="0.6" fill="none"/>
<path d="M340.10 47.51H346.10M343.1 44.51V50.51M340.10 44.51L346.10 50.51M340.10 50.51L346.10 44.51" stroke="#56B4E9" stroke-width="0.6" fill="none"/>
<path d="M342.88 45.6H348.88M345.88 42.60V48.60M342.88 42.60L348.88 48.60M342.88 48.60L348.88 42.60" stroke="#56B4E9" stroke-width="0.6" fill="none"/>
<path d="M345.65 43.69H351.65M348.65 40.69V46.69M345.65 40.69L351.65 46.69M345.65 46.69L351.65 40.69" stroke="#56B4E9" stroke-width="0.6" fill="none"/>
<path d="M348.42 41.78H354.42M351.42 38.78V44.78M348.42 38.78L354.42 44.78M348.42 44.78L354.42 38.78" stroke="#56B4E9" stroke-width="0.6" fill="none"/>
<path d="M351.20 39.86H357.20M354.2 36.86V42.86M351.20 36.86L357.20 42.86M351.20 42.86L357.20 36.86" stroke="#56B4E9" stroke-width="0.6" fill="none"/>
<path d="M353.98 37.95H359.98M356.98 34.95V40.95M353.98 34.95L359.98 40.95M353.98 40.95L359.98 34.95" stroke="#56B4E9" stroke-width="0.6" fill="none"/>
<path d="M356.75 36.04H362.75M359.75 33.04V39.04M356.75 33.04L362.75 39.04M356.75 39.04L362.75 33.04" stroke="#56B4E9" stroke-width="0.6" fill="none"/>
<path d="M359.52 34.13H365.52M362.52 31.13V37.13M359.52 31.13L365.52 37.13M359.52 37.13L365.52 31.13" stroke="#56B4E9" stroke-width="0.6" fill="none"/>
<path d="M362.30 32.22H368.30M365.3 29.22V35.22M362.30 29.22L368.30 35.22M362.30 35.22L368.30 29.22" stroke="#56B4E9" stroke-width="0.6" fill="none"/>
<path d="M365.07 30.3H371.07M368.07 27.30V33.30M365.07 27.30L371.07 33.30M365.07 33.30L371.07 27.30" stroke="#56B4E9" stroke-width="0.6" fill="none"/>
<rect x="62.55" y="233.46" width="6.10" height="6.10" stroke="#E69F00" stroke-width="0.42" fill="none"/>
<rect x="65.33" y="232.19" width="6.10" height="6.10" stroke="#E69F00" stroke-width="0.42" fill="none"/>
<rect x="68.10" y="230.93" width="6.10" height="6.10" stroke="#E69F00" stroke-width="0.42" fill="none"/>
<rect x="70.87" y="229.31" width="6.10" height="6.10" stroke="#E69F00" stroke-width="0.42" fill="none"/>
<rect x="73.65" y="227.51" width="6.10" height="6.10" stroke="#E69F00" stroke-width="0.42" fill="none"/>
<rect x="76.42" y="225.71" width="6.10" height="6.10" stroke="#E69F00" stroke-width="0.42" fill="none"/>
<rect x="79.20" y="223.86" width="6.10" height="6.10" stroke="#E69F00" stroke-width="0.42" fill="none"/>
<rect x="81.97" y="221.99" width="6.10" height="6.10" stroke="#E69F00" stroke-width="0.42" fill="none"/>
<rect x="84.75" y="220.15" width="6.10" height="6.10" stroke="#E69F00" stroke-width="0.42" fill="none"/>
<rect x="87.52" y="218.39" width="6.10" height="6.10" stroke="#E69F00" stroke-width="0.42" fill="none"/>
<rect x="90.30" y="216.74" width="6.10" height="6.10" stroke="#E69F00" stroke-width="0.42" fill="none"/>
<rect x="93.07" y="215.14" width="6.10" height="6.10" stroke="#E69F00" stroke-width="0.42" fill="none"/>
<rect x="95.85" y="213.52" width="6.10" height="6.10" stroke="#E69F00" stroke-width="0.42" fill="none"/>
<rect x="98.62" y="211.82" width="6.10" height="6.10" stroke="#E69F00" stroke-width="0.42" fill="none"/>
<rect x="101.40" y="210.06" width="6.10" height="6.10" stroke="#E69F00" stroke-width="0.42" fill="none"/>
<rect x="104.17" y="208.26" width="6.10" height="6.10" stroke="#E69F00" stroke-width="0.42" fill="none"/>
<rect x="106.95" y="206.45" width="6.10" height="6.10" stroke="#E69F00" stroke-width="0.42" fill="none"/>
<rect x="109.72" y="204.62" width="6.10" height="6.10" stroke="#E69F00" stroke-width="0.42" fill="none"/>
<rect x="112.50" y="202.81" width="6.10" height="6.10" stroke="#E69F00" stroke-width="0.42" fill="none"/>
<rect x="115.27" y="201.03" width="6.10" height="6.10" stroke="#E69F00" stroke-width="0.42" fill="none"/>
<rect x="118.05" y="199.29" width="6.10" height="6.10" stroke="#E69F00" stroke-width="0.42" fill="none"/>
<rect x="120.83" y="197.57" width="6.10" height="6.10" stroke="#E69F00" stroke-width="0.42" fill="none"/>
<rect x="123.60" y="195.87" width="6.10" height="6.10" stroke="#E69F00" stroke-width="0.42" fill="none"/>
<rect x="126.37" y="194.18" width="6.10" height="6.10" stroke="#E69F00" stroke-width="0.42" fill="none"/>
<rect x="129.15" y="192.49" width="6.10" height="6.10" stroke="#E69F00" stroke-width="0.42" fill="none"/>
<rect x="131.92" y="190.82" width="6.10" height="6.10" stroke="#E69F00" stroke-width="0.42" fill="none"/>
<rect x="134.70" y="189.16" width="6.10" height="6.10" stroke="#E69F00" stroke-width="0.42" fill="none"/>
<rect x="137.47" y="187.50" width="6.10" height="6.10" stroke="#E69F00" stroke-width="0.42" fill="none"/>
<rect x="140.25" y="185.85" width="6.10" height="6.10" stroke="#E69F00" stroke-width="0.42" fill="none"/>
<rect x="143.02" y="184.20" width="6.10" height="6.10" stroke="#E69F00" stroke-width="0.42" fill="none"/>
<rect x="145.80" y="182.56" width="6.10" height="6.10" stroke="#E69F00" stroke-width="0.42" fill="none"/>
<rect x="148.57" y="180.91" width="6.10" height="6.10" stroke="#E69F00" stroke-width="0.42" fill="none"/>
<rect x="151.35" y="179.27" width="6.10" height="6.10" stroke="#E69F00" stroke-width="0.42" fill="none"/>
<rect x="154.13" y="177.63" width="6.10" height="6.10" stroke="#E69F00" stroke-width="0.42" fill="none"/>
<rect x="156.90" y="175.98" width="6.10" height="6.10" stroke="#E69F00" stroke-width="0.42" fill="none"/>
<rect x="159.67" y="174.32" width="6.10" height="6.10" stroke="#E69F00" stroke-width="0.42" fill="none"/>
<rect x="162.45" y="172.65" width="6.10" height="6.10" stroke="#E69F00" stroke-width="0.42" fill="none"/>
<rect x="165.22" y="170.97" width="6.10" height="6.10" stroke="#E69F00" stroke-width="0.42" fill="none"/>
<rect x="168.00" y="169.29" width="6.10" height="6.10" stroke="#E69F00" stroke-width="0.42" fill="none"/>
<rect x="170.77" y="167.60" width="6.10" height="6.10" stroke="#E69F00" stroke-width="0.42" fill="none"/>
<rect x="173.55" y="165.92" width="6.10" height="6.10" stroke="#E69F00" stroke-width="0.42" fill="none"/>
<rect x="176.33" y="164.25" width="6.10" height="6.10" stroke="#E69F00" stroke-width="0.42" fill="none"/>
<rect x="179.10" y="162.58" width="6.10" height="6.10" stroke="#E69F00" stroke-width="0.42" fill="none"/>
<rect x="181.88" y="160.93" width="6.10" height="6.10" stroke="#E69F00" stroke-width="0.42" fill="none"/>
<rect x="184.65" y="159.31" width="6.10" height="6.10" stroke="#E69F00" stroke-width="0.42" fill="none"/>
<rect x="187.42" y="157.71" width="6.10" height="6.10" stroke="#E69F00" stroke-width="0.42" fill="none"/>
<rect x="190.20" y="156.13" width="6.10" height="6.10" stroke="#E69F00" stroke-width="0.42" fill="none"/>
<rect x="192.97" y="154.59" width="6.10" height="6.10" stroke="#E69F00" stroke-width="0.42" fill="none"/>
<rect x="195.75" y="153.09" width="6.10" height="6.10" stroke="#E69F00" stroke-width="0.42" fill="none"/>
<rect x="198.52" y="151.62" width="6.10" height="6.10" stroke="#E69F00" stroke-width="0.42" fill="none"/>
<rect x="201.30" y="150.19" width="6.10" height="6.10" stroke="#E69F00" stroke-width="0.42" fill="none"/>
<rect x="204.07" y="148.79" width="6.10" height="6.10" stroke="#E69F00" stroke-width="0.42" fill="none"/>
<rect x="206.85" y="147.41" width="6.10" height="6.10" stroke="#E69F00" stroke-width="0.42" fill="none"/>
<rect x="209.62" y="146.05" width="6.10" height="6.10" stroke="#E69F00" stroke-width="0.42" fill="none"/>
<rect x="212.40" y="144.72" width="6.10" height="6.10" stroke="#E69F00" stroke-width="0.42" fill="none"/>
<rect x="215.17" y="143.40" width="6.10" height="6.10" stroke="#E69F00" stroke-width="0.42" fill="none"/>
<rect x="217.95" y="142.10" width="6.10" height="6.10" stroke="#E69F00" stroke-width="0.42" fill="none"/>
<rect x="220.72" y="140.81" width="6.10" height="6.10" stroke="#E69F00" stroke-width="0.42" fill="none"/>
<rect x="223.50" y="139.53" width="6.10" height="6.10" stroke="#E69F00" stroke-width="0.42" fill="none"/>
<rect x="226.27" y="138.26" width="6.10" height="6.10" stroke="#E69F00" stroke-width="0.42" fill="none"/>
<rect x="229.05" y="137.00" width="6.10" height="6.10" stroke="#E69F00" stroke-width="0.42" fill="none"/>
<rect x="231.83" y="135.78" width="6.10" height="6.10" stroke="#E69F00" stroke-width="0.42" fill="none"/>
<rect x="234.60" y="134.58" width="6.10" height="6.10" stroke="#E69F00" stroke-width="0.42" fill="none"/>
<rect x="237.37" y="133.41" width="6.10" height="6.10" stroke="#E69F00" stroke-width="0.42" fill="none"/>
<rect x="240.15" y="132.24" width="6.10" height="6.10" stroke="#E69F00" stroke-width="0.42" fill="none"/>
<rect x="242.92" y="131.08" width="6.10" height="6.10" stroke="#E69F00" stroke-width="0.42" fill="none"/>
<rect x="245.70" y="129.91" width="6.10" height="6.10" stroke="#E69F00" stroke-width="0.42" fill="none"/>
<rect x="248.47" y="128.73" width="6.10" height="6.10" stroke="#E69F00" stroke-width="0.42" fill="none"/>
<rect x="251.25" y="127.52" width="6.10" height="6.10" stroke="#E69F00" stroke-width="0.42" fill="none"/>
<rect x="254.02" y="126.29" width="6.10" height="6.10" stroke="#E69F00" stroke-width="0.42" fill="none"/>
<rect x="256.80" y="125.02" width="6.10" height="6.10" stroke="#E69F00" stroke-width="0.42" fill="none"/>
<rect x="259.57" y="123.71" width="6.10" height="6.10" stroke="#E69F00" stroke-width="0.42" fill="none"/>
<rect x="262.35" y="122.36" width="6.10" height="6.10" stroke="#E69F00" stroke-width="0.42" fill="none"/>
<rect x="265.12" y="120.99" width="6.10" height="6.10" stroke="#E69F00" stroke-width="0.42" fill="none"/>
<rect x="267.90" y="119.60" width="6.10" height="6.10" stroke="#E69F00" stroke-width="0.42" fill="none"/>
<rect x="270.68" y="118.18" width="6.10" height="6.10" stroke="#E69F00" stroke-width="0.42" fill="none"/>
<rect x="273.45" y="116.76" width="6.10" height="6.10" stroke="#E69F00" stroke-width="0.42" fill="none"/>
<rect x="276.22" y="115.32" width="6.10" height="6.10" stroke="#E69F00" stroke-width="0.42" fill="none"/>
<rect x="279.00" y="113.87" width="6.10" height="6.10" stroke="#E69F00" stroke-width="0.42" fill="none"/>
<rect x="281.77" y="112.33" width="6.10" height="6.10" stroke="#E69F00" stroke-width="0.42" fill="none"/>
<rect x="284.55" y="110.74" width="6.10" height="6.10" stroke="#E69F00" stroke-width="0.42" fill="none"/>
<rect x="287.33" y="109.14" width="6.10" height="6.10" stroke="#E69F00" stroke-width="0.42" fill="none"/>
<rect x="290.10" y="107.55" width="6.10" height="6.10" stroke="#E69F00" stroke-width="0.42" fill="none"/>
<rect x="292.87" y="105.99" width="6.10" height="6.10" stroke="#E69F00" stroke-width="0.42" fill="none"/>
<rect x="295.65" y="104.51" width="6.10" height="6.10" stroke="#E69F00" stroke-width="0.42" fill="none"/>
<rect x="298.43" y="103.12" width="6.10" height="6.10" stroke="#E69F00" stroke-width="0.42" fill="none"/>
<rect x="301.20" y="101.86" width="6.10" height="6.10" stroke="#E69F00" stroke-width="0.42" fill="none"/>
<rect x="303.97" y="100.74" width="6.10" height="6.10" stroke="#E69F00" stroke-width="0.42" fill="none"/>
<rect x="306.75" y="99.69" width="6.10" height="6.10" stroke="#E69F00" stroke-width="0.42" fill="none"/>
<rect x="309.52" y="98.70" width="6.10" height="6.10" stroke="#E69F00" stroke-width="0.42" fill="none"/>
<rect x="312.30" y="97.77" width="6.10" height="6.10" stroke="#E69F00" stroke-width="0.42" fill="none"/>
<rect x="315.07" y="96.87" width="6.10" height="6.10" stroke="#E69F00" stroke-width="0.42" fill="none"/>
<rect x="317.85" y="96.00" width="6.10" height="6.10" stroke="#E69F00" stroke-width="0.42" fill="none"/>
<rect x="320.62" y="95.16" width="6.10" height="6.10" stroke="#E69F00" stroke-width="0.42" fill="none"/>
<rect x="323.40" y="94.32" width="6.10" height="6.10" stroke="#E69F00" stroke-width="0.42" fill="none"/>
<rect x="326.18" y="93.48" width="6.10" height="6.10" stroke="#E69F00" stroke-width="0.42" fill="none"/>
<rect x="331.73" y="91.79" width="6.10" height="6.10" stroke="#E69F00" stroke-width="0.42" fill="none"/>
<rect x="337.28" y="90.12" width="6.10" height="6.10" stroke="#E69F00" stroke-width="0.42" fill="none"/>
<rect x="342.83" y="88.53" width="6.10" height="6.10" stroke="#E69F00" stroke-width="0.42" fill="none"/>
<rect x="348.38" y="87.08" width="6.10" height="6.10" stroke="#E69F00" stroke-width="0.42" fill="none"/>
<rect x="353.93" y="85.83" width="6.10" height="6.10" stroke="#E69F00" stroke-width="0.42" fill="none"/>
<rect x="359.48" y="84.79" width="6.10" height="6.10" stroke="#E69F00" stroke-width="0.42" fill="none"/>
<rect x="365.03" y="83.84" width="6.10" height="6.10" stroke="#E69F00" stroke-width="0.42" fill="none"/>
<rect x="63.00" y="233.91" width="5.20" height="5.20" fill="#F0E442"/>
<rect x="65.78" y="232.64" width="5.20" height="5.20" fill="#F0E442"/>
<rect x="68.55" y="231.38" width="5.20" height="5.20" fill="#F0E442"/>
<rect x="71.32" y="229.76" width="5.20" height="5.20" fill="#F0E442"/>
<rect x="74.10" y="227.95" width="5.20" height="5.20" fill="#F0E442"/>
<rect x="76.87" y="226.18" width="5.20" height="5.20" fill="#F0E442"/>
<rect x="79.65" y="224.39" width="5.20" height="5.20" fill="#F0E442"/>
<rect x="82.42" y="222.59" width="5.20" height="5.20" fill="#F0E442"/>
<rect x="85.20" y="220.83" width="5.20" height="5.20" fill="#F0E442"/>
<rect x="87.97" y="219.16" width="5.20" height="5.20" fill="#F0E442"/>
<rect x="90.75" y="217.60" width="5.20" height="5.20" fill="#F0E442"/>
<rect x="93.52" y="216.09" width="5.20" height="5.20" fill="#F0E442"/>
<rect x="96.30" y="214.55" width="5.20" height="5.20" fill="#F0E442"/>
<rect x="99.07" y="212.90" width="5.20" height="5.20" fill="#F0E442"/>
<rect x="101.85" y="211.18" width="5.20" height="5.20" fill="#F0E442"/>
<rect x="104.62" y="209.40" width="5.20" height="5.20" fill="#F0E442"/>
<rect x="107.40" y="207.60" width="5.20" height="5.20" fill="#F0E442"/>
<rect x="110.17" y="205.79" width="5.20" height="5.20" fill="#F0E442"/>
<rect x="112.95" y="204.00" width="5.20" height="5.20" fill="#F0E442"/>
<rect x="115.72" y="202.25" width="5.20" height="5.20" fill="#F0E442"/>
<rect x="118.50" y="200.57" width="5.20" height="5.20" fill="#F0E442"/>
<rect x="121.28" y="198.92" width="5.20" height="5.20" fill="#F0E442"/>
<rect x="124.05" y="197.29" width="5.20" height="5.20" fill="#F0E442"/>
<rect x="126.82" y="195.68" width="5.20" height="5.20" fill="#F0E442"/>
<rect x="129.60" y="194.08" width="5.20" height="5.20" fill="#F0E442"/>
<rect x="132.37" y="192.50" width="5.20" height="5.20" fill="#F0E442"/>
<rect x="135.15" y="190.94" width="5.20" height="5.20" fill="#F0E442"/>
<rect x="137.92" y="189.38" width="5.20" height="5.20" fill="#F0E442"/>
<rect x="140.70" y="187.83" width="5.20" height="5.20" fill="#F0E442"/>
<rect x="143.47" y="186.29" width="5.20" height="5.20" fill="#F0E442"/>
<rect x="146.25" y="184.76" width="5.20" height="5.20" fill="#F0E442"/>
<rect x="149.02" y="183.23" width="5.20" height="5.20" fill="#F0E442"/>
<rect x="151.80" y="181.69" width="5.20" height="5.20" fill="#F0E442"/>
<rect x="154.58" y="180.16" width="5.20" height="5.20" fill="#F0E442"/>
<rect x="157.35" y="178.63" width="5.20" height="5.20" fill="#F0E442"/>
<rect x="160.12" y="177.09" width="5.20" height="5.20" fill="#F0E442"/>
<rect x="162.90" y="175.54" width="5.20" height="5.20" fill="#F0E442"/>
<rect x="165.67" y="173.98" width="5.20" height="5.20" fill="#F0E442"/>
<rect x="168.45" y="172.42" width="5.20" height="5.20" fill="#F0E442"/>
<rect x="171.22" y="170.87" width="5.20" height="5.20" fill="#F0E442"/>
<rect x="174.00" y="169.32" width="5.20" height="5.20" fill="#F0E442"/>
<rect x="176.78" y="167.78" width="5.20" height="5.20" fill="#F0E442"/>
<rect x="179.55" y="166.24" width="5.20" height="5.20" fill="#F0E442"/>
<rect x="182.33" y="164.73" width="5.20" height="5.20" fill="#F0E442"/>
<rect x="185.10" y="163.23" width="5.20" height="5.20" fill="#F0E442"/>
<rect x="187.87" y="161.76" width="5.20" height="5.20" fill="#F0E442"/>
<rect x="190.65" y="160.31" width="5.20" height="5.20" fill="#F0E442"/>
<rect x="193.42" y="158.88" width="5.20" height="5.20" fill="#F0E442"/>
<rect x="196.20" y="157.49" width="5.20" height="5.20" fill="#F0E442"/>
<rect x="198.97" y="156.13" width="5.20" height="5.20" fill="#F0E442"/>
<rect x="201.75" y="154.80" width="5.20" height="5.20" fill="#F0E442"/>
<rect x="204.52" y="153.50" width="5.20" height="5.20" fill="#F0E442"/>
<rect x="207.30" y="152.22" width="5.20" height="5.20" fill="#F0E442"/>
<rect x="210.07" y="150.96" width="5.20" height="5.20" fill="#F0E442"/>
<rect x="212.85" y="149.72" width="5.20" height="5.20" fill="#F0E442"/>
<rect x="215.62" y="148.50" width="5.20" height="5.20" fill="#F0E442"/>
<rect x="218.40" y="147.28" width="5.20" height="5.20" fill="#F0E442"/>
<rect x="221.17" y="146.08" width="5.20" height="5.20" fill="#F0E442"/>
<rect x="223.95" y="144.88" width="5.20" height="5.20" fill="#F0E442"/>
<rect x="226.72" y="143.69" width="5.20" height="5.20" fill="#F0E442"/>
<rect x="229.50" y="142.51" width="5.20" height="5.20" fill="#F0E442"/>
<rect x="232.28" y="141.37" width="5.20" height="5.20" fill="#F0E442"/>
<rect x="235.05" y="140.27" width="5.20" height="5.20" fill="#F0E442"/>
<rect x="237.82" y="139.18" width="5.20" height="5.20" fill="#F0E442"/>
<rect x="240.60" y="138.10" width="5.20" height="5.20" fill="#F0E442"/>
<rect x="243.37" y="137.02" width="5.20" height="5.20" fill="#F0E442"/>
<rect x="246.15" y="135.92" width="5.20" height="5.20" fill="#F0E442"/>
<rect x="248.92" y="134.80" width="5.20" height="5.20" fill="#F0E442"/>
<rect x="251.70" y="133.64" width="5.20" height="5.20" fill="#F0E442"/>
<rect x="254.47" y="132.43" width="5.20" height="5.20" fill="#F0E442"/>
<rect x="257.25" y="131.17" width="5.20" height="5.20" fill="#F0E442"/>
<rect x="260.02" y="129.80" width="5.20" height="5.20" fill="#F0E442"/>
<rect x="262.80" y="128.30" width="5.20" height="5.20" fill="#F0E442"/>
<rect x="265.57" y="126.72" width="5.20" height="5.20" fill="#F0E442"/>
<rect x="268.35" y="125.12" width="5.20" height="5.20" fill="#F0E442"/>
<rect x="271.13" y="123.56" width="5.20" height="5.20" fill="#F0E442"/>
<rect x="273.90" y="122.07" width="5.20" height="5.20" fill="#F0E442"/>
<rect x="276.67" y="120.72" width="5.20" height="5.20" fill="#F0E442"/>
<rect x="279.45" y="119.52" width="5.20" height="5.20" fill="#F0E442"/>
<rect x="282.22" y="118.37" width="5.20" height="5.20" fill="#F0E442"/>
<rect x="285.00" y="117.26" width="5.20" height="5.20" fill="#F0E442"/>
<rect x="287.78" y="116.20" width="5.20" height="5.20" fill="#F0E442"/>
<rect x="290.55" y="115.18" width="5.20" height="5.20" fill="#F0E442"/>
<rect x="293.32" y="114.21" width="5.20" height="5.20" fill="#F0E442"/>
<rect x="296.10" y="113.27" width="5.20" height="5.20" fill="#F0E442"/>
<rect x="298.88" y="112.38" width="5.20" height="5.20" fill="#F0E442"/>
<rect x="301.65" y="111.52" width="5.20" height="5.20" fill="#F0E442"/>
<rect x="304.42" y="110.71" width="5.20" height="5.20" fill="#F0E442"/>
<rect x="307.20" y="109.93" width="5.20" height="5.20" fill="#F0E442"/>
<rect x="309.97" y="109.18" width="5.20" height="5.20" fill="#F0E442"/>
<rect x="312.75" y="108.46" width="5.20" height="5.20" fill="#F0E442"/>
<rect x="315.52" y="107.76" width="5.20" height="5.20" fill="#F0E442"/>
<rect x="318.30" y="107.09" width="5.20" height="5.20" fill="#F0E442"/>
<rect x="321.07" y="106.44" width="5.20" height="5.20" fill="#F0E442"/>
<rect x="323.85" y="105.80" width="5.20" height="5.20" fill="#F0E442"/>
<rect x="326.63" y="105.17" width="5.20" height="5.20" fill="#F0E442"/>
<rect x="329.40" y="104.56" width="5.20" height="5.20" fill="#F0E442"/>
<rect x="332.17" y="103.95" width="5.20" height="5.20" fill="#F0E442"/>
<rect x="334.95" y="103.35" width="5.20" height="5.20" fill="#F0E442"/>
<rect x="337.72" y="102.77" width="5.20" height="5.20" fill="#F0E442"/>
<rect x="340.50" y="102.20" width="5.20" height="5.20" fill="#F0E442"/>
<rect x="343.28" y="101.65" width="5.20" height="5.20" fill="#F0E442"/>
<rect x="346.05" y="101.12" width="5.20" height="5.20" fill="#F0E442"/>
<rect x="348.82" y="100.62" width="5.20" height="5.20" fill="#F0E442"/>
<rect x="351.60" y="100.13" width="5.20" height="5.20" fill="#F0E442"/>
<rect x="354.38" y="99.68" width="5.20" height="5.20" fill="#F0E442"/>
<rect x="357.15" y="99.24" width="5.20" height="5.20" fill="#F0E442"/>
<rect x="359.92" y="98.82" width="5.20" height="5.20" fill="#F0E442"/>
<rect x="362.70" y="98.44" width="5.20" height="5.20" fill="#F0E442"/>
<rect x="365.47" y="98.09" width="5.20" height="5.20" fill="#F0E442"/>
<circle cx="65.6" cy="236.51" r="2.65" stroke="#0072B2" stroke-width="0.5" fill="none"/>
<circle cx="68.38" cy="235.24" r="2.65" stroke="#0072B2" stroke-width="0.5" fill="none"/>
<circle cx="71.15" cy="233.98" r="2.65" stroke="#0072B2" stroke-width="0.5" fill="none"/>
<circle cx="73.92" cy="232.35" r="2.65" stroke="#0072B2" stroke-width="0.5" fill="none"/>
<circle cx="76.7" cy="230.54" r="2.65" stroke="#0072B2" stroke-width="0.5" fill="none"/>
<circle cx="79.47" cy="228.81" r="2.65" stroke="#0072B2" stroke-width="0.5" fill="none"/>
<circle cx="82.25" cy="227.11" r="2.65" stroke="#0072B2" stroke-width="0.5" fill="none"/>
<circle cx="85.02" cy="225.43" r="2.65" stroke="#0072B2" stroke-width="0.5" fill="none"/>
<circle cx="87.8" cy="223.78" r="2.65" stroke="#0072B2" stroke-width="0.5" fill="none"/>
<circle cx="90.57" cy="222.17" r="2.65" stroke="#0072B2" stroke-width="0.5" fill="none"/>
<circle cx="93.35" cy="220.65" r="2.65" stroke="#0072B2" stroke-width="0.5" fill="none"/>
<circle cx="96.12" cy="219.16" r="2.65" stroke="#0072B2" stroke-width="0.5" fill="none"/>
<circle cx="98.9" cy="217.64" r="2.65" stroke="#0072B2" stroke-width="0.5" fill="none"/>
<circle cx="101.67" cy="216.02" r="2.65" stroke="#0072B2" stroke-width="0.5" fill="none"/>
<circle cx="104.45" cy="214.32" r="2.65" stroke="#0072B2" stroke-width="0.5" fill="none"/>
<circle cx="107.22" cy="212.57" r="2.65" stroke="#0072B2" stroke-width="0.5" fill="none"/>
<circle cx="110.0" cy="210.79" r="2.65" stroke="#0072B2" stroke-width="0.5" fill="none"/>
<circle cx="112.77" cy="209.0" r="2.65" stroke="#0072B2" stroke-width="0.5" fill="none"/>
<circle cx="115.55" cy="207.24" r="2.65" stroke="#0072B2" stroke-width="0.5" fill="none"/>
<circle cx="118.32" cy="205.53" r="2.65" stroke="#0072B2" stroke-width="0.5" fill="none"/>
<circle cx="121.1" cy="203.88" r="2.65" stroke="#0072B2" stroke-width="0.5" fill="none"/>
<circle cx="123.88" cy="202.27" r="2.65" stroke="#0072B2" stroke-width="0.5" fill="none"/>
<circle cx="126.65" cy="200.68" r="2.65" stroke="#0072B2" stroke-width="0.5" fill="none"/>
<circle cx="129.42" cy="199.12" r="2.65" stroke="#0072B2" stroke-width="0.5" fill="none"/>
<circle cx="132.2" cy="197.57" r="2.65" stroke="#0072B2" stroke-width="0.5" fill="none"/>
<circle cx="134.97" cy="196.03" r="2.65" stroke="#0072B2" stroke-width="0.5" fill="none"/>
<circle cx="137.75" cy="194.52" r="2.65" stroke="#0072B2" stroke-width="0.5" fill="none"/>
<circle cx="140.52" cy="193.01" r="2.65" stroke="#0072B2" stroke-width="0.5" fill="none"/>
<circle cx="143.3" cy="191.51" r="2.65" stroke="#0072B2" stroke-width="0.5" fill="none"/>
<circle cx="146.07" cy="190.02" r="2.65" stroke="#0072B2" stroke-width="0.5" fill="none"/>
<circle cx="148.85" cy="188.54" r="2.65" stroke="#0072B2" stroke-width="0.5" fill="none"/>
<circle cx="151.62" cy="187.06" r="2.65" stroke="#0072B2" stroke-width="0.5" fill="none"/>
<circle cx="154.4" cy="185.58" r="2.65" stroke="#0072B2" stroke-width="0.5" fill="none"/>
<circle cx="157.18" cy="184.11" r="2.65" stroke="#0072B2" stroke-width="0.5" fill="none"/>
<circle cx="159.95" cy="182.63" r="2.65" stroke="#0072B2" stroke-width="0.5" fill="none"/>
<circle cx="162.72" cy="181.14" r="2.65" stroke="#0072B2" stroke-width="0.5" fill="none"/>
<circle cx="165.5" cy="179.65" r="2.65" stroke="#0072B2" stroke-width="0.5" fill="none"/>
<circle cx="168.27" cy="178.15" r="2.65" stroke="#0072B2" stroke-width="0.5" fill="none"/>
<circle cx="171.05" cy="176.66" r="2.65" stroke="#0072B2" stroke-width="0.5" fill="none"/>
<circle cx="173.82" cy="175.16" r="2.65" stroke="#0072B2" stroke-width="0.5" fill="none"/>
<circle cx="176.6" cy="173.67" r="2.65" stroke="#0072B2" stroke-width="0.5" fill="none"/>
<circle cx="179.38" cy="172.2" r="2.65" stroke="#0072B2" stroke-width="0.5" fill="none"/>
<circle cx="182.15" cy="170.73" r="2.65" stroke="#0072B2" stroke-width="0.5" fill="none"/>
<circle cx="184.93" cy="169.28" r="2.65" stroke="#0072B2" stroke-width="0.5" fill="none"/>
<circle cx="187.7" cy="167.84" r="2.65" stroke="#0072B2" stroke-width="0.5" fill="none"/>
<circle cx="190.47" cy="166.43" r="2.65" stroke="#0072B2" stroke-width="0.5" fill="none"/>
<circle cx="193.25" cy="165.05" r="2.65" stroke="#0072B2" stroke-width="0.5" fill="none"/>
<circle cx="196.02" cy="163.69" r="2.65" stroke="#0072B2" stroke-width="0.5" fill="none"/>
<circle cx="198.8" cy="162.36" r="2.65" stroke="#0072B2" stroke-width="0.5" fill="none"/>
<circle cx="201.57" cy="161.07" r="2.65" stroke="#0072B2" stroke-width="0.5" fill="none"/>
<circle cx="204.35" cy="159.79" r="2.65" stroke="#0072B2" stroke-width="0.5" fill="none"/>
<circle cx="207.12" cy="158.54" r="2.65" stroke="#0072B2" stroke-width="0.5" fill="none"/>
<circle cx="209.9" cy="157.31" r="2.65" stroke="#0072B2" stroke-width="0.5" fill="none"/>
<circle cx="212.67" cy="156.09" r="2.65" stroke="#0072B2" stroke-width="0.5" fill="none"/>
<circle cx="215.45" cy="154.9" r="2.65" stroke="#0072B2" stroke-width="0.5" fill="none"/>
<circle cx="218.22" cy="153.73" r="2.65" stroke="#0072B2" stroke-width="0.5" fill="none"/>
<circle cx="221.0" cy="152.58" r="2.65" stroke="#0072B2" stroke-width="0.5" fill="none"/>
<circle cx="223.77" cy="151.45" r="2.65" stroke="#0072B2" stroke-width="0.5" fill="none"/>
<circle cx="226.55" cy="150.34" r="2.65" stroke="#0072B2" stroke-width="0.5" fill="none"/>
<circle cx="229.32" cy="149.26" r="2.65" stroke="#0072B2" stroke-width="0.5" fill="none"/>
<circle cx="232.1" cy="148.21" r="2.65" stroke="#0072B2" stroke-width="0.5" fill="none"/>
<circle cx="234.88" cy="147.21" r="2.65" stroke="#0072B2" stroke-width="0.5" fill="none"/>
<circle cx="237.65" cy="146.24" r="2.65" stroke="#0072B2" stroke-width="0.5" fill="none"/>
<circle cx="240.42" cy="145.31" r="2.65" stroke="#0072B2" stroke-width="0.5" fill="none"/>
<circle cx="243.2" cy="144.39" r="2.65" stroke="#0072B2" stroke-width="0.5" fill="none"/>
<circle cx="245.97" cy="143.48" r="2.65" stroke="#0072B2" stroke-width="0.5" fill="none"/>
<circle cx="248.75" cy="142.55" r="2.65" stroke="#0072B2" stroke-width="0.5" fill="none"/>
<circle cx="251.52" cy="141.61" r="2.65" stroke="#0072B2" stroke-width="0.5" fill="none"/>
<circle cx="254.3" cy="140.64" r="2.65" stroke="#0072B2" stroke-width="0.5" fill="none"/>
<circle cx="257.07" cy="139.63" r="2.65" stroke="#0072B2" stroke-width="0.5" fill="none"/>
<circle cx="259.85" cy="138.56" r="2.65" stroke="#0072B2" stroke-width="0.5" fill="none"/>
<circle cx="262.62" cy="137.39" r="2.65" stroke="#0072B2" stroke-width="0.5" fill="none"/>
<circle cx="265.4" cy="136.11" r="2.65" stroke="#0072B2" stroke-width="0.5" fill="none"/>
<circle cx="268.17" cy="134.76" r="2.65" stroke="#0072B2" stroke-width="0.5" fill="none"/>
<circle cx="270.95" cy="133.4" r="2.65" stroke="#0072B2" stroke-width="0.5" fill="none"/>
<circle cx="273.73" cy="132.08" r="2.65" stroke="#0072B2" stroke-width="0.5" fill="none"/>
<circle cx="276.5" cy="130.84" r="2.65" stroke="#0072B2" stroke-width="0.5" fill="none"/>
<circle cx="279.27" cy="129.75" r="2.65" stroke="#0072B2" stroke-width="0.5" fill="none"/>
<circle cx="282.05" cy="128.81" r="2.65" stroke="#0072B2" stroke-width="0.5" fill="none"/>
<circle cx="284.82" cy="127.93" r="2.65" stroke="#0072B2" stroke-width="0.5" fill="none"/>
<circle cx="287.6" cy="127.09" r="2.65" stroke="#0072B2" stroke-width="0.5" fill="none"/>
<circle cx="290.38" cy="126.3" r="2.65" stroke="#0072B2" stroke-width="0.5" fill="none"/>
<circle cx="293.15" cy="125.54" r="2.65" stroke="#0072B2" stroke-width="0.5" fill="none"/>
<circle cx="295.92" cy="124.83" r="2.65" stroke="#0072B2" stroke-width="0.5" fill="none"/>
<circle cx="298.7" cy="124.15" r="2.65" stroke="#0072B2" stroke-width="0.5" fill="none"/>
<circle cx="301.48" cy="123.49" r="2.65" stroke="#0072B2" stroke-width="0.5" fill="none"/>
<circle cx="304.25" cy="122.87" r="2.65" stroke="#0072B2" stroke-width="0.5" fill="none"/>
<circle cx="309.8" cy="121.69" r="2.65" stroke="#0072B2" stroke-width="0.5" fill="none"/>
<circle cx="315.35" cy="120.62" r="2.65" stroke="#0072B2" stroke-width="0.5" fill="none"/>
<circle cx="320.9" cy="119.63" r="2.65" stroke="#0072B2" stroke-width="0.5" fill="none"/>
<circle cx="326.45" cy="118.69" r="2.65" stroke="#0072B2" stroke-width="0.5" fill="none"/>
<circle cx="332.0" cy="117.77" r="2.65" stroke="#0072B2" stroke-width="0.5" fill="none"/>
<circle cx="337.55" cy="116.88" r="2.65" stroke="#0072B2" stroke-width="0.5" fill="none"/>
<circle cx="343.1" cy="116.03" r="2.65" stroke="#0072B2" stroke-width="0.5" fill="none"/>
<circle cx="348.65" cy="115.23" r="2.65" stroke="#0072B2" stroke-width="0.5" fill="none"/>
<circle cx="354.2" cy="114.5" r="2.65" stroke="#0072B2" stroke-width="0.5" fill="none"/>
<circle cx="359.75" cy="113.84" r="2.65" stroke="#0072B2" stroke-width="0.5" fill="none"/>
<circle cx="365.3" cy="113.26" r="2.65" stroke="#0072B2" stroke-width="0.5" fill="none"/>
<circle cx="65.6" cy="236.51" r="2.70" fill="#E51E10"/>
<circle cx="68.38" cy="235.24" r="2.70" fill="#E51E10"/>
<circle cx="71.15" cy="233.98" r="2.70" fill="#E51E10"/>
<circle cx="73.92" cy="232.34" r="2.70" fill="#E51E10"/>
<circle cx="76.7" cy="230.52" r="2.70" fill="#E51E10"/>
<circle cx="79.47" cy="228.84" r="2.70" fill="#E51E10"/>
<circle cx="82.25" cy="227.23" r="2.70" fill="#E51E10"/>
<circle cx="85.02" cy="225.65" r="2.70" fill="#E51E10"/>
<circle cx="87.8" cy="224.11" r="2.70" fill="#E51E10"/>
<circle cx="90.57" cy="222.58" r="2.70" fill="#E51E10"/>
<circle cx="93.35" cy="221.12" r="2.70" fill="#E51E10"/>
<circle cx="96.12" cy="219.69" r="2.70" fill="#E51E10"/>
<circle cx="98.9" cy="218.22" r="2.70" fill="#E51E10"/>
<circle cx="101.67" cy="216.65" r="2.70" fill="#E51E10"/>
<circle cx="104.45" cy="215.0" r="2.70" fill="#E51E10"/>
<circle cx="107.22" cy="213.29" r="2.70" fill="#E51E10"/>
<circle cx="110.0" cy="211.55" r="2.70" fill="#E51E10"/>
<circle cx="112.77" cy="209.8" r="2.70" fill="#E51E10"/>
<circle cx="115.55" cy="208.08" r="2.70" fill="#E51E10"/>
<circle cx="118.32" cy="206.4" r="2.70" fill="#E51E10"/>
<circle cx="121.1" cy="204.8" r="2.70" fill="#E51E10"/>
<circle cx="123.88" cy="203.22" r="2.70" fill="#E51E10"/>
<circle cx="126.65" cy="201.67" r="2.70" fill="#E51E10"/>
<circle cx="129.42" cy="200.14" r="2.70" fill="#E51E10"/>
<circle cx="132.2" cy="198.62" r="2.70" fill="#E51E10"/>
<circle cx="134.97" cy="197.12" r="2.70" fill="#E51E10"/>
<circle cx="137.75" cy="195.63" r="2.70" fill="#E51E10"/>
<circle cx="140.52" cy="194.15" r="2.70" fill="#E51E10"/>
<circle cx="143.3" cy="192.69" r="2.70" fill="#E51E10"/>
<circle cx="146.07" cy="191.23" r="2.70" fill="#E51E10"/>
<circle cx="148.85" cy="189.78" r="2.70" fill="#E51E10"/>
<circle cx="151.62" cy="188.34" r="2.70" fill="#E51E10"/>
<circle cx="154.4" cy="186.9" r="2.70" fill="#E51E10"/>
<circle cx="157.18" cy="185.46" r="2.70" fill="#E51E10"/>
<circle cx="159.95" cy="184.03" r="2.70" fill="#E51E10"/>
<circle cx="162.72" cy="182.59" r="2.70" fill="#E51E10"/>
<circle cx="165.5" cy="181.14" r="2.70" fill="#E51E10"/>
<circle cx="168.27" cy="179.69" r="2.70" fill="#E51E10"/>
<circle cx="171.05" cy="178.25" r="2.70" fill="#E51E10"/>
<circle cx="173.82" cy="176.8" r="2.70" fill="#E51E10"/>
<circle cx="176.6" cy="175.37" r="2.70" fill="#E51E10"/>
<circle cx="179.38" cy="173.94" r="2.70" fill="#E51E10"/>
<circle cx="182.15" cy="172.53" r="2.70" fill="#E51E10"/>
<circle cx="184.93" cy="171.14" r="2.70" fill="#E51E10"/>
<circle cx="187.7" cy="169.76" r="2.70" fill="#E51E10"/>
<circle cx="190.47" cy="168.41" r="2.70" fill="#E51E10"/>
<circle cx="193.25" cy="167.09" r="2.70" fill="#E51E10"/>
<circle cx="196.02" cy="165.79" r="2.70" fill="#E51E10"/>
<circle cx="198.8" cy="164.53" r="2.70" fill="#E51E10"/>
<circle cx="201.57" cy="163.31" r="2.70" fill="#E51E10"/>
<circle cx="204.35" cy="162.1" r="2.70" fill="#E51E10"/>
<circle cx="207.12" cy="160.92" r="2.70" fill="#E51E10"/>
<circle cx="209.9" cy="159.75" r="2.70" fill="#E51E10"/>
<circle cx="212.67" cy="158.61" r="2.70" fill="#E51E10"/>
<circle cx="215.45" cy="157.49" r="2.70" fill="#E51E10"/>
<circle cx="218.22" cy="156.39" r="2.70" fill="#E51E10"/>
<circle cx="221.0" cy="155.32" r="2.70" fill="#E51E10"/>
<circle cx="223.77" cy="154.27" r="2.70" fill="#E51E10"/>
<circle cx="226.55" cy="153.24" r="2.70" fill="#E51E10"/>
<circle cx="229.32" cy="152.24" r="2.70" fill="#E51E10"/>
<circle cx="232.1" cy="151.27" r="2.70" fill="#E51E10"/>
<circle cx="234.88" cy="150.33" r="2.70" fill="#E51E10"/>
<circle cx="237.65" cy="149.42" r="2.70" fill="#E51E10"/>
<circle cx="240.42" cy="148.53" r="2.70" fill="#E51E10"/>
<circle cx="243.2" cy="147.66" r="2.70" fill="#E51E10"/>
<circle cx="245.97" cy="146.8" r="2.70" fill="#E51E10"/>
<circle cx="248.75" cy="145.95" r="2.70" fill="#E51E10"/>
<circle cx="251.52" cy="145.1" r="2.70" fill="#E51E10"/>
<circle cx="254.3" cy="144.26" r="2.70" fill="#E51E10"/>
<circle cx="257.07" cy="143.41" r="2.70" fill="#E51E10"/>
<circle cx="259.85" cy="142.55" r="2.70" fill="#E51E10"/>
<circle cx="262.62" cy="141.66" r="2.70" fill="#E51E10"/>
<circle cx="265.4" cy="140.75" r="2.70" fill="#E51E10"/>
<circle cx="268.17" cy="139.83" r="2.70" fill="#E51E10"/>
<circle cx="270.95" cy="138.92" r="2.70" fill="#E51E10"/>
<circle cx="273.73" cy="138.05" r="2.70" fill="#E51E10"/>
<circle cx="276.5" cy="137.23" r="2.70" fill="#E51E10"/>
<circle cx="282.05" cy="135.8" r="2.70" fill="#E51E10"/>
<circle cx="287.6" cy="134.51" r="2.70" fill="#E51E10"/>
<circle cx="293.15" cy="133.32" r="2.70" fill="#E51E10"/>
<circle cx="298.7" cy="132.27" r="2.70" fill="#E51E10"/>
<circle cx="304.25" cy="131.4" r="2.70" fill="#E51E10"/>
<circle cx="309.8" cy="130.7" r="2.70" fill="#E51E10"/>
<circle cx="315.35" cy="130.08" r="2.70" fill="#E51E10"/>
<circle cx="320.9" cy="129.55" r="2.70" fill="#E51E10"/>
<circle cx="326.45" cy="129.08" r="2.70" fill="#E51E10"/>
<circle cx="332.0" cy="128.65" r="2.70" fill="#E51E10"/>
<circle cx="337.55" cy="128.22" r="2.70" fill="#E51E10"/>
<circle cx="343.1" cy="127.81" r="2.70" fill="#E51E10"/>
<circle cx="348.65" cy="127.5" r="2.70" fill="#E51E10"/>
<circle cx="354.2" cy="127.31" r="2.70" fill="#E51E10"/>
<circle cx="359.75" cy="127.25" r="2.70" fill="#E51E10"/>
<circle cx="365.3" cy="127.21" r="2.70" fill="#E51E10"/>
<path d="M65.6 233.46L68.24 238.03H62.96Z" stroke="#000000" stroke-width="0.5" fill="none"/>
<path d="M68.38 232.19L71.02 236.77H65.74Z" stroke="#000000" stroke-width="0.5" fill="none"/>
<path d="M71.15 230.93L73.79 235.50H68.51Z" stroke="#000000" stroke-width="0.5" fill="none"/>
<path d="M73.92 229.27L76.56 233.84H71.28Z" stroke="#000000" stroke-width="0.5" fill="none"/>
<path d="M76.7 227.46L79.34 232.03H74.06Z" stroke="#000000" stroke-width="0.5" fill="none"/>
<path d="M79.47 225.82L82.11 230.40H76.83Z" stroke="#000000" stroke-width="0.5" fill="none"/>
<path d="M82.25 224.30L84.89 228.88H79.61Z" stroke="#000000" stroke-width="0.5" fill="none"/>
<path d="M85.02 222.84L87.66 227.41H82.38Z" stroke="#000000" stroke-width="0.5" fill="none"/>
<path d="M87.8 221.40L90.44 225.97H85.16Z" stroke="#000000" stroke-width="0.5" fill="none"/>
<path d="M90.57 219.95L93.21 224.53H87.93Z" stroke="#000000" stroke-width="0.5" fill="none"/>
<path d="M93.35 218.52L95.99 223.09H90.71Z" stroke="#000000" stroke-width="0.5" fill="none"/>
<path d="M96.12 217.10L98.76 221.68H93.48Z" stroke="#000000" stroke-width="0.5" fill="none"/>
<path d="M98.9 215.65L101.54 220.22H96.26Z" stroke="#000000" stroke-width="0.5" fill="none"/>
<path d="M101.67 214.12L104.31 218.69H99.03Z" stroke="#000000" stroke-width="0.5" fill="none"/>
<path d="M104.45 212.52L107.09 217.09H101.81Z" stroke="#000000" stroke-width="0.5" fill="none"/>
<path d="M107.22 210.86L109.86 215.44H104.58Z" stroke="#000000" stroke-width="0.5" fill="none"/>
<path d="M110.0 209.18L112.64 213.75H107.36Z" stroke="#000000" stroke-width="0.5" fill="none"/>
<path d="M112.77 207.49L115.41 212.06H110.13Z" stroke="#000000" stroke-width="0.5" fill="none"/>
<path d="M115.55 205.83L118.19 210.41H112.91Z" stroke="#000000" stroke-width="0.5" fill="none"/>
<path d="M118.32 204.22L120.96 208.80H115.68Z" stroke="#000000" stroke-width="0.5" fill="none"/>
<path d="M121.1 202.67L123.74 207.25H118.46Z" stroke="#000000" stroke-width="0.5" fill="none"/>
<path d="M123.88 201.16L126.52 205.74H121.24Z" stroke="#000000" stroke-width="0.5" fill="none"/>
<path d="M126.65 199.66L129.29 204.24H124.01Z" stroke="#000000" stroke-width="0.5" fill="none"/>
<path d="M129.42 198.19L132.06 202.77H126.78Z" stroke="#000000" stroke-width="0.5" fill="none"/>
<path d="M132.2 196.74L134.84 201.31H129.56Z" stroke="#000000" stroke-width="0.5" fill="none"/>
<path d="M134.97 195.30L137.61 199.88H132.33Z" stroke="#000000" stroke-width="0.5" fill="none"/>
<path d="M137.75 193.87L140.39 198.44H135.11Z" stroke="#000000" stroke-width="0.5" fill="none"/>
<path d="M140.52 192.46L143.16 197.03H137.88Z" stroke="#000000" stroke-width="0.5" fill="none"/>
<path d="M143.3 191.05L145.94 195.62H140.66Z" stroke="#000000" stroke-width="0.5" fill="none"/>
<path d="M146.07 189.66L148.71 194.24H143.43Z" stroke="#000000" stroke-width="0.5" fill="none"/>
<path d="M148.85 188.28L151.49 192.86H146.21Z" stroke="#000000" stroke-width="0.5" fill="none"/>
<path d="M151.62 186.90L154.26 191.47H148.98Z" stroke="#000000" stroke-width="0.5" fill="none"/>
<path d="M154.4 185.52L157.04 190.09H151.76Z" stroke="#000000" stroke-width="0.5" fill="none"/>
<path d="M157.18 184.15L159.82 188.72H154.54Z" stroke="#000000" stroke-width="0.5" fill="none"/>
<path d="M159.95 182.77L162.59 187.34H157.31Z" stroke="#000000" stroke-width="0.5" fill="none"/>
<path d="M162.72 181.40L165.36 185.97H160.08Z" stroke="#000000" stroke-width="0.5" fill="none"/>
<path d="M165.5 180.01L168.14 184.59H162.86Z" stroke="#000000" stroke-width="0.5" fill="none"/>
<path d="M168.27 178.62L170.91 183.19H165.63Z" stroke="#000000" stroke-width="0.5" fill="none"/>
<path d="M171.05 177.23L173.69 181.81H168.41Z" stroke="#000000" stroke-width="0.5" fill="none"/>
<path d="M173.82 175.84L176.46 180.41H171.18Z" stroke="#000000" stroke-width="0.5" fill="none"/>
<path d="M176.6 174.45L179.24 179.03H173.96Z" stroke="#000000" stroke-width="0.5" fill="none"/>
<path d="M179.38 173.08L182.02 177.66H176.74Z" stroke="#000000" stroke-width="0.5" fill="none"/>
<path d="M182.15 171.73L184.79 176.31H179.51Z" stroke="#000000" stroke-width="0.5" fill="none"/>
<path d="M184.93 170.39L187.57 174.97H182.29Z" stroke="#000000" stroke-width="0.5" fill="none"/>
<path d="M187.7 169.08L190.34 173.66H185.06Z" stroke="#000000" stroke-width="0.5" fill="none"/>
<path d="M190.47 167.80L193.11 172.38H187.83Z" stroke="#000000" stroke-width="0.5" fill="none"/>
<path d="M193.25 166.54L195.89 171.12H190.61Z" stroke="#000000" stroke-width="0.5" fill="none"/>
<path d="M196.02 165.32L198.66 169.90H193.38Z" stroke="#000000" stroke-width="0.5" fill="none"/>
<path d="M198.8 164.15L201.44 168.72H196.16Z" stroke="#000000" stroke-width="0.5" fill="none"/>
<path d="M201.57 163.01L204.21 167.59H198.93Z" stroke="#000000" stroke-width="0.5" fill="none"/>
<path d="M204.35 161.89L206.99 166.47H201.71Z" stroke="#000000" stroke-width="0.5" fill="none"/>
<path d="M207.12 160.80L209.76 165.38H204.48Z" stroke="#000000" stroke-width="0.5" fill="none"/>
<path d="M209.9 159.72L212.54 164.30H207.26Z" stroke="#000000" stroke-width="0.5" fill="none"/>
<path d="M212.67 158.68L215.31 163.25H210.03Z" stroke="#000000" stroke-width="0.5" fill="none"/>
<path d="M215.45 157.65L218.09 162.22H212.81Z" stroke="#000000" stroke-width="0.5" fill="none"/>
<path d="M218.22 156.65L220.86 161.22H215.58Z" stroke="#000000" stroke-width="0.5" fill="none"/>
<path d="M221.0 155.69L223.64 160.27H218.36Z" stroke="#000000" stroke-width="0.5" fill="none"/>
<path d="M223.77 154.75L226.41 159.33H221.13Z" stroke="#000000" stroke-width="0.5" fill="none"/>
<path d="M226.55 153.84L229.19 158.41H223.91Z" stroke="#000000" stroke-width="0.5" fill="none"/>
<path d="M229.32 152.96L231.96 157.53H226.68Z" stroke="#000000" stroke-width="0.5" fill="none"/>
<path d="M232.1 152.12L234.74 156.69H229.46Z" stroke="#000000" stroke-width="0.5" fill="none"/>
<path d="M237.65 150.55L240.29 155.12H235.01Z" stroke="#000000" stroke-width="0.5" fill="none"/>
<path d="M243.2 149.09L245.84 153.66H240.56Z" stroke="#000000" stroke-width="0.5" fill="none"/>
<path d="M248.75 147.68L251.39 152.25H246.11Z" stroke="#000000" stroke-width="0.5" fill="none"/>
<path d="M254.3 146.27L256.94 150.84H251.66Z" stroke="#000000" stroke-width="0.5" fill="none"/>
<path d="M259.85 144.79L262.49 149.37H257.21Z" stroke="#000000" stroke-width="0.5" fill="none"/>
<path d="M265.4 143.13L268.04 147.71H262.76Z" stroke="#000000" stroke-width="0.5" fill="none"/>
<path d="M270.95 141.37L273.59 145.94H268.31Z" stroke="#000000" stroke-width="0.5" fill="none"/>
<path d="M276.5 139.81L279.14 144.39H273.86Z" stroke="#000000" stroke-width="0.5" fill="none"/>
<path d="M282.05 138.68L284.69 143.25H279.41Z" stroke="#000000" stroke-width="0.5" fill="none"/>
<path d="M287.6 137.75L290.24 142.33H284.96Z" stroke="#000000" stroke-width="0.5" fill="none"/>
<path d="M293.15 136.95L295.79 141.53H290.51Z" stroke="#000000" stroke-width="0.5" fill="none"/>
<path d="M298.7 136.29L301.34 140.87H296.06Z" stroke="#000000" stroke-width="0.5" fill="none"/>
<path d="M304.25 135.80L306.89 140.38H301.61Z" stroke="#000000" stroke-width="0.5" fill="none"/>
<path d="M309.8 135.46L312.44 140.03H307.16Z" stroke="#000000" stroke-width="0.5" fill="none"/>
<path d="M315.35 135.19L317.99 139.77H312.71Z" stroke="#000000" stroke-width="0.5" fill="none"/>
<path d="M320.9 134.97L323.54 139.55H318.26Z" stroke="#000000" stroke-width="0.5" fill="none"/>
<path d="M326.45 134.77L329.09 139.34H323.81Z" stroke="#000000" stroke-width="0.5" fill="none"/>
<path d="M332.0 134.58L334.64 139.16H329.36Z" stroke="#000000" stroke-width="0.5" fill="none"/>
<path d="M337.55 134.42L340.19 139.00H334.91Z" stroke="#000000" stroke-width="0.5" fill="none"/>
<path d="M343.1 134.27L345.74 138.84H340.46Z" stroke="#000000" stroke-width="0.5" fill="none"/>
<path d="M348.65 134.13L351.29 138.71H346.01Z" stroke="#000000" stroke-width="0.5" fill="none"/>
<path d="M354.2 133.97L356.84 138.55H351.56Z" stroke="#000000" stroke-width="0.5" fill="none"/>
<path d="M359.75 133.77L362.39 138.34H357.11Z" stroke="#000000" stroke-width="0.5" fill="none"/>
<path d="M365.3 133.58L367.94 138.16H362.66Z" stroke="#000000" stroke-width="0.5" fill="none"/>
<path d="M65.6 233.06L68.59 238.23H62.61Z" fill="#9400D3"/>
<path d="M68.38 231.79L71.37 236.97H65.39Z" fill="#9400D3"/>
<path d="M71.15 230.53L74.14 235.70H68.16Z" fill="#9400D3"/>
<path d="M73.92 228.86L76.91 234.03H70.93Z" fill="#9400D3"/>
<path d="M76.7 227.04L79.69 232.22H73.71Z" fill="#9400D3"/>
<path d="M79.47 225.46L82.46 230.63H76.48Z" fill="#9400D3"/>
<path d="M82.25 224.03L85.24 229.20H79.26Z" fill="#9400D3"/>
<path d="M85.02 222.67L88.01 227.84H82.03Z" fill="#9400D3"/>
<path d="M87.8 221.33L90.79 226.50H84.81Z" fill="#9400D3"/>
<path d="M90.57 219.96L93.56 225.13H87.58Z" fill="#9400D3"/>
<path d="M93.35 218.60L96.34 223.78H90.36Z" fill="#9400D3"/>
<path d="M96.12 217.23L99.11 222.41H93.13Z" fill="#9400D3"/>
<path d="M98.9 215.83L101.89 221.00H95.91Z" fill="#9400D3"/>
<path d="M101.67 214.36L104.66 219.53H98.68Z" fill="#9400D3"/>
<path d="M104.45 212.81L107.44 217.98H101.46Z" fill="#9400D3"/>
<path d="M107.22 211.21L110.21 216.38H104.23Z" fill="#9400D3"/>
<path d="M110.0 209.59L112.99 214.76H107.01Z" fill="#9400D3"/>
<path d="M112.77 207.96L115.76 213.13H109.78Z" fill="#9400D3"/>
<path d="M115.55 206.35L118.54 211.53H112.56Z" fill="#9400D3"/>
<path d="M118.32 204.79L121.31 209.97H115.33Z" fill="#9400D3"/>
<path d="M121.1 203.29L124.09 208.47H118.11Z" fill="#9400D3"/>
<path d="M123.88 201.82L126.87 207.00H120.89Z" fill="#9400D3"/>
<path d="M126.65 200.36L129.64 205.53H123.66Z" fill="#9400D3"/>
<path d="M129.42 198.92L132.41 204.09H126.43Z" fill="#9400D3"/>
<path d="M132.2 197.49L135.19 202.66H129.21Z" fill="#9400D3"/>
<path d="M134.97 196.08L137.96 201.25H131.98Z" fill="#9400D3"/>
<path d="M137.75 194.68L140.74 199.85H134.76Z" fill="#9400D3"/>
<path d="M140.52 193.30L143.51 198.47H137.53Z" fill="#9400D3"/>
<path d="M143.3 191.92L146.29 197.09H140.31Z" fill="#9400D3"/>
<path d="M146.07 190.56L149.06 195.73H143.08Z" fill="#9400D3"/>
<path d="M148.85 189.21L151.84 194.38H145.86Z" fill="#9400D3"/>
<path d="M151.62 187.86L154.61 193.03H148.63Z" fill="#9400D3"/>
<path d="M154.4 186.52L157.39 191.69H151.41Z" fill="#9400D3"/>
<path d="M157.18 185.20L160.17 190.38H154.19Z" fill="#9400D3"/>
<path d="M159.95 183.87L162.94 189.04H156.96Z" fill="#9400D3"/>
<path d="M162.72 182.55L165.71 187.72H159.73Z" fill="#9400D3"/>
<path d="M165.5 181.22L168.49 186.39H162.51Z" fill="#9400D3"/>
<path d="M168.27 179.89L171.26 185.06H165.28Z" fill="#9400D3"/>
<path d="M171.05 178.55L174.04 183.72H168.06Z" fill="#9400D3"/>
<path d="M173.82 177.23L176.81 182.41H170.83Z" fill="#9400D3"/>
<path d="M176.6 175.91L179.59 181.09H173.61Z" fill="#9400D3"/>
<path d="M179.38 174.61L182.37 179.78H176.39Z" fill="#9400D3"/>
<path d="M182.15 173.32L185.14 178.50H179.16Z" fill="#9400D3"/>
<path d="M184.93 172.06L187.92 177.23H181.94Z" fill="#9400D3"/>
<path d="M187.7 170.82L190.69 176.00H184.71Z" fill="#9400D3"/>
<path d="M190.47 169.61L193.46 174.78H187.48Z" fill="#9400D3"/>
<path d="M193.25 168.44L196.24 173.61H190.26Z" fill="#9400D3"/>
<path d="M196.02 167.30L199.01 172.47H193.03Z" fill="#9400D3"/>
<path d="M198.8 166.21L201.79 171.38H195.81Z" fill="#9400D3"/>
<path d="M201.57 165.15L204.56 170.32H198.58Z" fill="#9400D3"/>
<path d="M204.35 164.11L207.34 169.28H201.36Z" fill="#9400D3"/>
<path d="M207.12 163.09L210.11 168.26H204.13Z" fill="#9400D3"/>
<path d="M209.9 162.08L212.89 167.25H206.91Z" fill="#9400D3"/>
<path d="M212.67 161.10L215.66 166.28H209.68Z" fill="#9400D3"/>
<path d="M215.45 160.15L218.44 165.32H212.46Z" fill="#9400D3"/>
<path d="M218.22 159.24L221.21 164.41H215.23Z" fill="#9400D3"/>
<path d="M221.0 158.36L223.99 163.53H218.01Z" fill="#9400D3"/>
<path d="M223.77 157.53L226.76 162.70H220.78Z" fill="#9400D3"/>
<path d="M226.55 156.75L229.54 161.92H223.56Z" fill="#9400D3"/>
<path d="M229.32 156.02L232.31 161.19H226.33Z" fill="#9400D3"/>
<path d="M232.1 155.34L235.09 160.51H229.11Z" fill="#9400D3"/>
<path d="M234.88 154.70L237.87 159.88H231.89Z" fill="#9400D3"/>
<path d="M237.65 154.08L240.64 159.25H234.66Z" fill="#9400D3"/>
<path d="M240.42 153.50L243.41 158.67H237.43Z" fill="#9400D3"/>
<path d="M243.2 152.93L246.19 158.10H240.21Z" fill="#9400D3"/>
<path d="M248.75 151.88L251.74 157.06H245.76Z" fill="#9400D3"/>
<path d="M254.3 150.90L257.29 156.07H251.31Z" fill="#9400D3"/>
<path d="M259.85 149.97L262.84 155.14H256.86Z" fill="#9400D3"/>
<path d="M265.4 149.05L268.39 154.22H262.41Z" fill="#9400D3"/>
<path d="M270.95 148.16L273.94 153.34H267.96Z" fill="#9400D3"/>
<path d="M276.5 147.45L279.49 152.62H273.51Z" fill="#9400D3"/>
<path d="M282.05 147.02L285.04 152.19H279.06Z" fill="#9400D3"/>
<path d="M287.6 146.72L290.59 151.89H284.61Z" fill="#9400D3"/>
<path d="M293.15 146.48L296.14 151.66H290.16Z" fill="#9400D3"/>
<path d="M298.7 146.30L301.69 151.47H295.71Z" fill="#9400D3"/>
<path d="M304.25 146.16L307.24 151.34H301.26Z" fill="#9400D3"/>
<path d="M309.8 146.07L312.79 151.25H306.81Z" fill="#9400D3"/>
<path d="M315.35 145.98L318.34 151.16H312.36Z" fill="#9400D3"/>
<path d="M320.9 145.92L323.89 151.09H317.91Z" fill="#9400D3"/>
<path d="M326.45 145.87L329.44 151.04H323.46Z" fill="#9400D3"/>
<path d="M332.0 145.84L334.99 151.01H329.01Z" fill="#9400D3"/>
<path d="M337.55 145.82L340.54 151.00H334.56Z" fill="#9400D3"/>
<path d="M343.1 145.80L346.09 150.97H340.11Z" fill="#9400D3"/>
<path d="M348.65 145.78L351.64 150.95H345.66Z" fill="#9400D3"/>
<path d="M354.2 145.77L357.19 150.94H351.21Z" fill="#9400D3"/>
<path d="M359.75 145.76L362.74 150.94H356.76Z" fill="#9400D3"/>
<path d="M365.3 145.75L368.29 150.92H362.31Z" fill="#9400D3"/>
<path d="M65.6 239.71L68.37 234.91H62.83Z" stroke="#009E73" stroke-width="0.5" fill="none"/>
<path d="M68.38 238.44L71.15 233.64H65.61Z" stroke="#009E73" stroke-width="0.5" fill="none"/>
<path d="M71.15 237.18L73.92 232.38H68.38Z" stroke="#009E73" stroke-width="0.5" fill="none"/>
<path d="M73.92 235.49L76.69 230.69H71.15Z" stroke="#009E73" stroke-width="0.5" fill="none"/>
<path d="M76.7 233.66L79.47 228.86H73.93Z" stroke="#009E73" stroke-width="0.5" fill="none"/>
<path d="M79.47 232.17L82.24 227.37H76.70Z" stroke="#009E73" stroke-width="0.5" fill="none"/>
<path d="M82.25 230.88L85.02 226.08H79.48Z" stroke="#009E73" stroke-width="0.5" fill="none"/>
<path d="M85.02 229.70L87.79 224.90H82.25Z" stroke="#009E73" stroke-width="0.5" fill="none"/>
<path d="M87.8 228.54L90.57 223.74H85.03Z" stroke="#009E73" stroke-width="0.5" fill="none"/>
<path d="M90.57 227.34L93.34 222.54H87.80Z" stroke="#009E73" stroke-width="0.5" fill="none"/>
<path d="M93.35 226.14L96.12 221.34H90.58Z" stroke="#009E73" stroke-width="0.5" fill="none"/>
<path d="M96.12 224.95L98.89 220.15H93.35Z" stroke="#009E73" stroke-width="0.5" fill="none"/>
<path d="M98.9 223.71L101.67 218.91H96.13Z" stroke="#009E73" stroke-width="0.5" fill="none"/>
<path d="M101.67 222.42L104.44 217.62H98.90Z" stroke="#009E73" stroke-width="0.5" fill="none"/>
<path d="M104.45 221.07L107.22 216.27H101.68Z" stroke="#009E73" stroke-width="0.5" fill="none"/>
<path d="M107.22 219.68L109.99 214.88H104.45Z" stroke="#009E73" stroke-width="0.5" fill="none"/>
<path d="M110.0 218.26L112.77 213.46H107.23Z" stroke="#009E73" stroke-width="0.5" fill="none"/>
<path d="M112.77 216.83L115.54 212.03H110.00Z" stroke="#009E73" stroke-width="0.5" fill="none"/>
<path d="M115.55 215.40L118.32 210.60H112.78Z" stroke="#009E73" stroke-width="0.5" fill="none"/>
<path d="M118.32 213.97L121.09 209.17H115.55Z" stroke="#009E73" stroke-width="0.5" fill="none"/>
<path d="M121.1 212.57L123.87 207.77H118.33Z" stroke="#009E73" stroke-width="0.5" fill="none"/>
<path d="M123.88 211.18L126.65 206.38H121.11Z" stroke="#009E73" stroke-width="0.5" fill="none"/>
<path d="M126.65 209.78L129.42 204.98H123.88Z" stroke="#009E73" stroke-width="0.5" fill="none"/>
<path d="M129.42 208.39L132.19 203.59H126.65Z" stroke="#009E73" stroke-width="0.5" fill="none"/>
<path d="M132.2 207.00L134.97 202.20H129.43Z" stroke="#009E73" stroke-width="0.5" fill="none"/>
<path d="M134.97 205.61L137.74 200.81H132.20Z" stroke="#009E73" stroke-width="0.5" fill="none"/>
<path d="M137.75 204.21L140.52 199.41H134.98Z" stroke="#009E73" stroke-width="0.5" fill="none"/>
<path d="M140.52 202.78L143.29 197.98H137.75Z" stroke="#009E73" stroke-width="0.5" fill="none"/>
<path d="M143.3 201.37L146.07 196.57H140.53Z" stroke="#009E73" stroke-width="0.5" fill="none"/>
<path d="M146.07 200.00L148.84 195.20H143.30Z" stroke="#009E73" stroke-width="0.5" fill="none"/>
<path d="M148.85 198.70L151.62 193.90H146.08Z" stroke="#009E73" stroke-width="0.5" fill="none"/>
<path d="M151.62 197.50L154.39 192.70H148.85Z" stroke="#009E73" stroke-width="0.5" fill="none"/>
<path d="M154.4 196.34L157.17 191.54H151.63Z" stroke="#009E73" stroke-width="0.5" fill="none"/>
<path d="M157.18 195.21L159.95 190.41H154.41Z" stroke="#009E73" stroke-width="0.5" fill="none"/>
<path d="M159.95 194.16L162.72 189.36H157.18Z" stroke="#009E73" stroke-width="0.5" fill="none"/>
<path d="M162.72 193.20L165.49 188.40H159.95Z" stroke="#009E73" stroke-width="0.5" fill="none"/>
<path d="M165.5 192.36L168.27 187.56H162.73Z" stroke="#009E73" stroke-width="0.5" fill="none"/>
<path d="M168.27 191.60L171.04 186.80H165.50Z" stroke="#009E73" stroke-width="0.5" fill="none"/>
<path d="M171.05 190.90L173.82 186.10H168.28Z" stroke="#009E73" stroke-width="0.5" fill="none"/>
<path d="M173.82 190.25L176.59 185.45H171.05Z" stroke="#009E73" stroke-width="0.5" fill="none"/>
<path d="M176.6 189.66L179.37 184.86H173.83Z" stroke="#009E73" stroke-width="0.5" fill="none"/>
<path d="M179.38 189.12L182.15 184.32H176.61Z" stroke="#009E73" stroke-width="0.5" fill="none"/>
<path d="M184.93 188.13L187.70 183.33H182.16Z" stroke="#009E73" stroke-width="0.5" fill="none"/>
<path d="M190.48 187.27L193.25 182.47H187.71Z" stroke="#009E73" stroke-width="0.5" fill="none"/>
<path d="M196.03 186.59L198.80 181.79H193.26Z" stroke="#009E73" stroke-width="0.5" fill="none"/>
<path d="M201.58 186.01L204.35 181.21H198.81Z" stroke="#009E73" stroke-width="0.5" fill="none"/>
<path d="M207.13 185.52L209.90 180.72H204.36Z" stroke="#009E73" stroke-width="0.5" fill="none"/>
<path d="M212.68 185.13L215.45 180.33H209.91Z" stroke="#009E73" stroke-width="0.5" fill="none"/>
<path d="M218.23 184.84L221.00 180.04H215.46Z" stroke="#009E73" stroke-width="0.5" fill="none"/>
<path d="M223.78 184.58L226.55 179.78H221.01Z" stroke="#009E73" stroke-width="0.5" fill="none"/>
<path d="M229.33 184.35L232.10 179.55H226.56Z" stroke="#009E73" stroke-width="0.5" fill="none"/>
<path d="M234.88 184.14L237.65 179.34H232.11Z" stroke="#009E73" stroke-width="0.5" fill="none"/>
<path d="M240.43 183.98L243.20 179.18H237.66Z" stroke="#009E73" stroke-width="0.5" fill="none"/>
<path d="M245.98 183.86L248.75 179.06H243.21Z" stroke="#009E73" stroke-width="0.5" fill="none"/>
<path d="M251.53 183.78L254.30 178.98H248.76Z" stroke="#009E73" stroke-width="0.5" fill="none"/>
<path d="M257.08 183.73L259.85 178.93H254.31Z" stroke="#009E73" stroke-width="0.5" fill="none"/>
<path d="M262.63 183.68L265.40 178.88H259.86Z" stroke="#009E73" stroke-width="0.5" fill="none"/>
<path d="M268.18 183.64L270.95 178.84H265.41Z" stroke="#009E73" stroke-width="0.5" fill="none"/>
<path d="M273.73 183.61L276.50 178.81H270.96Z" stroke="#009E73" stroke-width="0.5" fill="none"/>
<path d="M279.28 183.60L282.05 178.80H276.51Z" stroke="#009E73" stroke-width="0.5" fill="none"/>
<path d="M284.83 183.60L287.60 178.80H282.06Z" stroke="#009E73" stroke-width="0.5" fill="none"/>
<path d="M290.38 183.60L293.15 178.80H287.61Z" stroke="#009E73" stroke-width="0.5" fill="none"/>
<path d="M295.93 183.60L298.70 178.80H293.16Z" stroke="#009E73" stroke-width="0.5" fill="none"/>
<path d="M301.48 183.60L304.25 178.80H298.71Z" stroke="#009E73" stroke-width="0.5" fill="none"/>
<path d="M307.03 183.60L309.80 178.80H304.26Z" stroke="#009E73" stroke-width="0.5" fill="none"/>
<path d="M312.58 183.60L315.35 178.80H309.81Z" stroke="#009E73" stroke-width="0.5" fill="none"/>
<path d="M318.13 183.60L320.90 178.80H315.36Z" stroke="#009E73" stroke-width="0.5" fill="none"/>
<path d="M323.68 183.60L326.45 178.80H320.91Z" stroke="#009E73" stroke-width="0.5" fill="none"/>
<path d="M329.23 183.60L332.00 178.80H326.46Z" stroke="#009E73" stroke-width="0.5" fill="none"/>
<path d="M334.78 183.60L337.55 178.80H332.01Z" stroke="#009E73" stroke-width="0.5" fill="none"/>
<path d="M340.33 183.60L343.10 178.80H337.56Z" stroke="#009E73" stroke-width="0.5" fill="none"/>
<path d="M345.88 183.60L348.65 178.80H343.11Z" stroke="#009E73" stroke-width="0.5" fill="none"/>
<path d="M351.43 183.60L354.20 178.80H348.66Z" stroke="#009E73" stroke-width="0.5" fill="none"/>
<path d="M356.98 183.60L359.75 178.80H354.21Z" stroke="#009E73" stroke-width="0.5" fill="none"/>
<path d="M362.53 183.60L365.30 178.80H359.76Z" stroke="#009E73" stroke-width="0.5" fill="none"/>
<path d="M368.08 183.60L370.85 178.80H365.31Z" stroke="#009E73" stroke-width="0.5" fill="none"/>
</g>
<defs><clipPath id="cp"><rect x="57.2" y="13.6" width="311.2" height="222.6"/></clipPath></defs>
<path d="M57.2 240.00L368.4 25.58" stroke="#000" stroke-width="1.6" clip-path="url(#cp)"/>
<rect x="66.3" y="42.0" width="103.00000000000001" height="79.4" fill="none" stroke="#222" stroke-width="0.8"/>
<path d="M66.3 55.3H169.3" stroke="#222" stroke-width="0.8"/>
<path d="M61.12 236.2v-2.2M61.12 13.6v2.2M64.60 236.2v-2.2M64.60 13.6v2.2M67.62 236.2v-2.2M67.62 13.6v2.2M70.27 236.2v-2.2M70.27 13.6v2.2M72.65 236.2v-5.0M72.65 13.6v5.0M88.29 236.2v-2.2M88.29 13.6v2.2M97.44 236.2v-2.2M97.44 13.6v2.2M103.93 236.2v-2.2M103.93 13.6v2.2M108.96 236.2v-2.2M108.96 13.6v2.2M113.07 236.2v-2.2M113.07 13.6v2.2M116.55 236.2v-2.2M116.55 13.6v2.2M119.57 236.2v-2.2M119.57 13.6v2.2M122.22 236.2v-2.2M122.22 13.6v2.2M124.60 236.2v-5.0M124.60 13.6v5.0M140.24 236.2v-2.2M140.24 13.6v2.2M149.39 236.2v-2.2M149.39 13.6v2.2M155.88 236.2v-2.2M155.88 13.6v2.2M160.91 236.2v-2.2M160.91 13.6v2.2M165.02 236.2v-2.2M165.02 13.6v2.2M168.50 236.2v-2.2M168.50 13.6v2.2M171.52 236.2v-2.2M171.52 13.6v2.2M174.17 236.2v-2.2M174.17 13.6v2.2M176.55 236.2v-5.0M176.55 13.6v5.0M192.19 236.2v-2.2M192.19 13.6v2.2M201.34 236.2v-2.2M201.34 13.6v2.2M207.83 236.2v-2.2M207.83 13.6v2.2M212.86 236.2v-2.2M212.86 13.6v2.2M216.97 236.2v-2.2M216.97 13.6v2.2M220.45 236.2v-2.2M220.45 13.6v2.2M223.47 236.2v-2.2M223.47 13.6v2.2M226.12 236.2v-2.2M226.12 13.6v2.2M228.50 236.2v-5.0M228.50 13.6v5.0M244.14 236.2v-2.2M244.14 13.6v2.2M253.29 236.2v-2.2M253.29 13.6v2.2M259.78 236.2v-2.2M259.78 13.6v2.2M264.81 236.2v-2.2M264.81 13.6v2.2M268.92 236.2v-2.2M268.92 13.6v2.2M272.40 236.2v-2.2M272.40 13.6v2.2M275.42 236.2v-2.2M275.42 13.6v2.2M278.07 236.2v-2.2M278.07 13.6v2.2M280.45 236.2v-5.0M280.45 13.6v5.0M296.09 236.2v-2.2M296.09 13.6v2.2M305.24 236.2v-2.2M305.24 13.6v2.2M311.73 236.2v-2.2M311.73 13.6v2.2M316.76 236.2v-2.2M316.76 13.6v2.2M320.87 236.2v-2.2M320.87 13.6v2.2M324.35 236.2v-2.2M324.35 13.6v2.2M327.37 236.2v-2.2M327.37 13.6v2.2M330.02 236.2v-2.2M330.02 13.6v2.2M332.40 236.2v-5.0M332.40 13.6v5.0M348.04 236.2v-2.2M348.04 13.6v2.2M357.19 236.2v-2.2M357.19 13.6v2.2M363.68 236.2v-2.2M363.68 13.6v2.2M57.2 230.69h2.2M368.4 230.69h-2.2M57.2 227.54h2.2M368.4 227.54h-2.2M57.2 225.31h2.2M368.4 225.31h-2.2M57.2 223.58h2.2M368.4 223.58h-2.2M57.2 222.16h2.2M368.4 222.16h-2.2M57.2 220.97h2.2M368.4 220.97h-2.2M57.2 219.93h2.2M368.4 219.93h-2.2M57.2 219.02h2.2M368.4 219.02h-2.2M57.2 218.20h5.0M368.4 218.20h-5.0M57.2 200.33h2.2M368.4 200.33h-2.2M57.2 194.96h2.2M368.4 194.96h-2.2M57.2 191.81h2.2M368.4 191.81h-2.2M57.2 189.58h2.2M368.4 189.58h-2.2M57.2 187.85h2.2M368.4 187.85h-2.2M57.2 186.43h2.2M368.4 186.43h-2.2M57.2 185.24h2.2M368.4 185.24h-2.2M57.2 184.20h2.2M368.4 184.20h-2.2M57.2 183.29h2.2M368.4 183.29h-2.2M57.2 182.47h5.0M368.4 182.47h-5.0M57.2 164.60h2.2M368.4 164.60h-2.2M57.2 159.23h2.2M368.4 159.23h-2.2M57.2 156.08h2.2M368.4 156.08h-2.2M57.2 153.85h2.2M368.4 153.85h-2.2M57.2 152.12h2.2M368.4 152.12h-2.2M57.2 150.70h2.2M368.4 150.70h-2.2M57.2 149.51h2.2M368.4 149.51h-2.2M57.2 148.47h2.2M368.4 148.47h-2.2M57.2 147.56h2.2M368.4 147.56h-2.2M57.2 146.74h5.0M368.4 146.74h-5.0M57.2 128.88h2.2M368.4 128.88h-2.2M57.2 123.50h2.2M368.4 123.50h-2.2M57.2 120.35h2.2M368.4 120.35h-2.2M57.2 118.12h2.2M368.4 118.12h-2.2M57.2 116.39h2.2M368.4 116.39h-2.2M57.2 114.97h2.2M368.4 114.97h-2.2M57.2 113.78h2.2M368.4 113.78h-2.2M57.2 112.74h2.2M368.4 112.74h-2.2M57.2 111.83h2.2M368.4 111.83h-2.2M57.2 111.01h5.0M368.4 111.01h-5.0M57.2 93.14h2.2M368.4 93.14h-2.2M57.2 87.77h2.2M368.4 87.77h-2.2M57.2 84.62h2.2M368.4 84.62h-2.2M57.2 82.39h2.2M368.4 82.39h-2.2M57.2 80.66h2.2M368.4 80.66h-2.2M57.2 79.24h2.2M368.4 79.24h-2.2M57.2 78.05h2.2M368.4 78.05h-2.2M57.2 77.01h2.2M368.4 77.01h-2.2M57.2 76.10h2.2M368.4 76.10h-2.2M57.2 75.28h5.0M368.4 75.28h-5.0M57.2 57.41h2.2M368.4 57.41h-2.2M57.2 52.04h2.2M368.4 52.04h-2.2M57.2 48.89h2.2M368.4 48.89h-2.2M57.2 46.66h2.2M368.4 46.66h-2.2M57.2 44.93h2.2M368.4 44.93h-2.2M57.2 43.51h2.2M368.4 43.51h-2.2M57.2 42.32h2.2M368.4 42.32h-2.2M57.2 41.28h2.2M368.4 41.28h-2.2M57.2 40.37h2.2M368.4 40.37h-2.2M57.2 39.55h5.0M368.4 39.55h-5.0M57.2 21.69h2.2M368.4 21.69h-2.2M57.2 16.31h2.2M368.4 16.31h-2.2" stroke="#000" stroke-width="0.6" fill="none"/>
<rect x="57.2" y="13.6" width="311.2" height="222.6" fill="none" stroke="#000" stroke-width="1.25"/>
<g font-family="Liberation Sans, sans-serif" font-size="14.0" fill="#000">
<text transform="translate(62.65 255.30) scale(0.96 1)">10<tspan dy="-6.6" font-size="10.7">0</tspan></text>
<text transform="translate(114.60 255.30) scale(0.96 1)">10<tspan dy="-6.6" font-size="10.7">1</tspan></text>
<text transform="translate(166.55 255.30) scale(0.96 1)">10<tspan dy="-6.6" font-size="10.7">2</tspan></text>
<text transform="translate(218.50 255.30) scale(0.96 1)">10<tspan dy="-6.6" font-size="10.7">3</tspan></text>
<text transform="translate(270.45 255.30) scale(0.96 1)">10<tspan dy="-6.6" font-size="10.7">4</tspan></text>
<text transform="translate(322.40 255.30) scale(0.96 1)">10<tspan dy="-6.6" font-size="10.7">5</tspan></text>
<text transform="translate(27.90 224.40) scale(0.96 1)">10<tspan dy="-6.6" font-size="10.7">0</tspan></text>
<text transform="translate(27.90 188.67) scale(0.96 1)">10<tspan dy="-6.6" font-size="10.7">2</tspan></text>
<text transform="translate(27.90 152.94) scale(0.96 1)">10<tspan dy="-6.6" font-size="10.7">4</tspan></text>
<text transform="translate(27.90 117.21) scale(0.96 1)">10<tspan dy="-6.6" font-size="10.7">6</tspan></text>
<text transform="translate(27.90 81.48) scale(0.96 1)">10<tspan dy="-6.6" font-size="10.7">8</tspan></text>
<text transform="translate(22.20 45.75) scale(0.96 1)">10<tspan dy="-6.6" font-size="10.7">10</tspan></text>
<text transform="translate(212.80 275.20) scale(0.96 1)" text-anchor="middle">t</text>
<text transform="translate(16.80 125.30) rotate(-90) scale(0.96 1)" text-anchor="middle">MSD</text>
<text transform="translate(70.0 29.6) scale(1.04 1)">α</text>
<text transform="translate(82.2 29.6) scale(0.935 1)">= 2.0, c<tspan dy="3.4" font-size="10.7">crit</tspan><tspan dy="-3.4"> = 1</tspan></text>
<text transform="translate(117.80 53.40) scale(0.96 1)" text-anchor="middle">c</text>
<text transform="translate(67.30 66.40) scale(0.96 1)">0.8</text>
<text transform="translate(67.30 79.90) scale(0.96 1)">0.9</text>
<text transform="translate(67.30 93.40) scale(0.96 1)">1.0</text>
<text transform="translate(67.30 106.90) scale(0.96 1)">1.1</text>
<text transform="translate(67.30 120.40) scale(0.96 1)">1.11</text>
<text transform="translate(118.30 66.40) scale(0.96 1)">1.12</text>
<text transform="translate(118.30 79.90) scale(0.96 1)">1.13</text>
<text transform="translate(118.30 93.40) scale(0.96 1)">1.14</text>
<text transform="translate(118.30 106.90) scale(0.96 1)">1.15</text>
<text transform="translate(118.30 120.40) scale(0.96 1)">1.2</text>
<path d="M99.10 62.4H105.10M102.1 59.40V65.40" stroke="#9400D3" stroke-width="0.6" fill="none"/>
<path d="M99.10 72.70L105.10 78.70M99.10 78.70L105.10 72.70" stroke="#009E73" stroke-width="0.6" fill="none"/>
<path d="M99.10 89.0H105.10M102.1 86.00V92.00M99.10 86.00L105.10 92.00M99.10 92.00L105.10 86.00" stroke="#56B4E9" stroke-width="0.6" fill="none"/>
<rect x="99.05" y="99.25" width="6.10" height="6.10" stroke="#E69F00" stroke-width="0.42" fill="none"/>
<rect x="99.50" y="113.00" width="5.20" height="5.20" fill="#F0E442"/>
<circle cx="153.4" cy="62.4" r="2.65" stroke="#0072B2" stroke-width="0.5" fill="none"/>
<circle cx="153.4" cy="75.7" r="2.70" fill="#E51E10"/>
<path d="M153.4 85.95L156.04 90.53H150.76Z" stroke="#000000" stroke-width="0.5" fill="none"/>
<path d="M153.4 98.85L156.39 104.02H150.41Z" fill="#9400D3"/>
<path d="M153.4 118.80L156.17 114.00H150.63Z" stroke="#009E73" stroke-width="0.5" fill="none"/>
</g>
</svg>
</body></html>
